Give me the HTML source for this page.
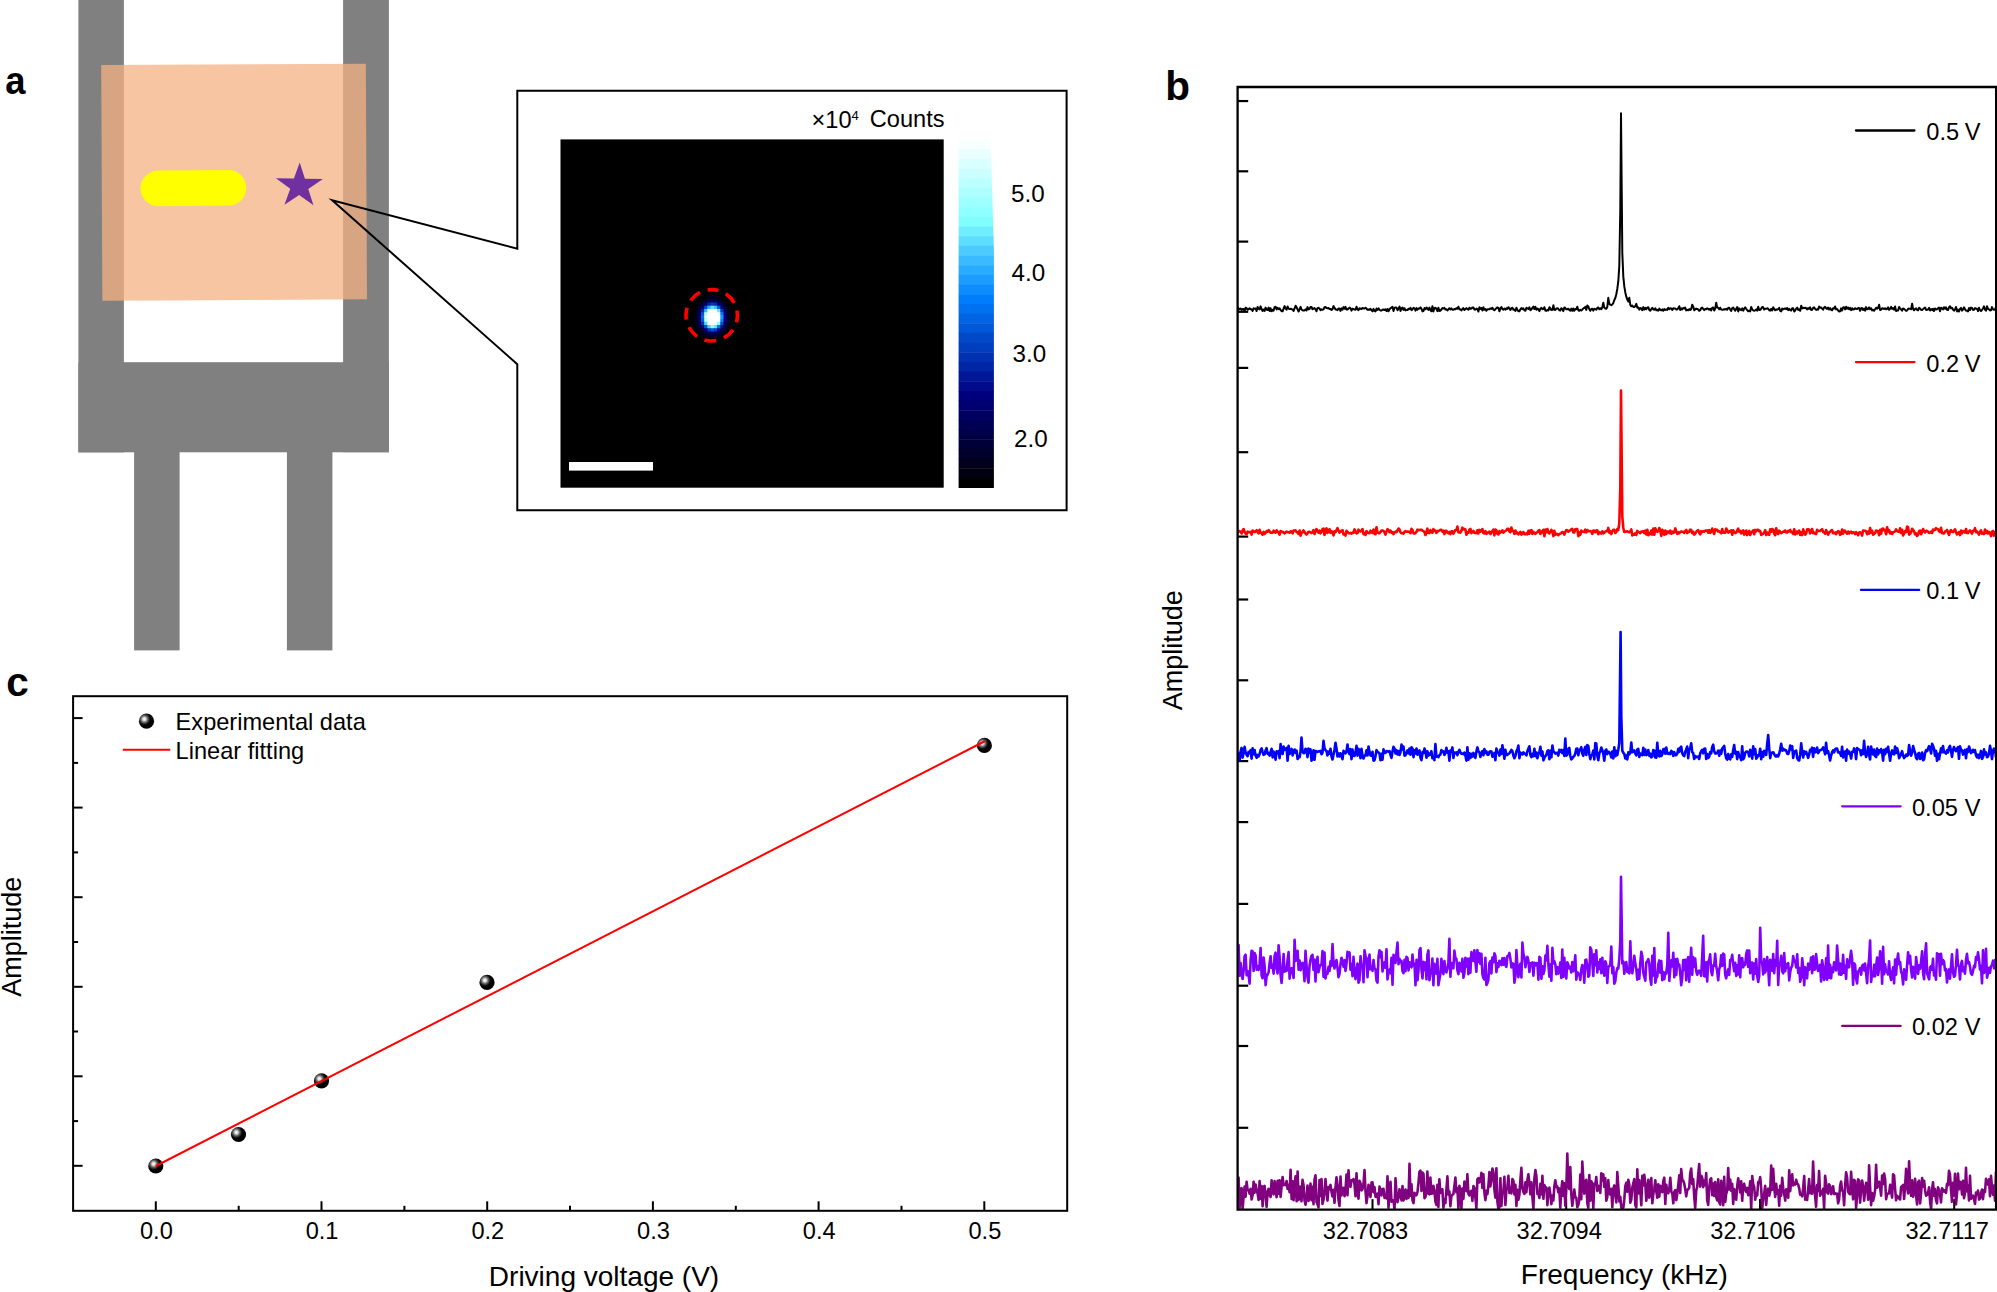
<!DOCTYPE html>
<html lang="en"><head><meta charset="utf-8"><title>Figure</title>
<style>
html,body{margin:0;padding:0;background:#fff;}
body{width:1997px;height:1292px;overflow:hidden;}
svg{display:block;}
text{font-family:"Liberation Sans", Arial, Helvetica, sans-serif;fill:#000;}
.t23{font-size:23.6px;}
.t27{font-size:28px;}
.t27a{font-size:27px;}
.t24{font-size:24.2px;}
.lab{font-size:40.5px;font-weight:bold;}
</style></head><body>
<svg width="1997" height="1292" viewBox="0 0 1997 1292">
<defs>
<radialGradient id="ball" cx="0.36" cy="0.36" r="0.42" fx="0.36" fy="0.36">
<stop offset="0" stop-color="#ffffff"/>
<stop offset="0.22" stop-color="#e0e0e0"/>
<stop offset="0.55" stop-color="#606060"/>
<stop offset="0.85" stop-color="#101010"/>
<stop offset="1" stop-color="#000000"/>
</radialGradient>
<filter id="soft" x="-20%" y="-20%" width="140%" height="140%"><feGaussianBlur stdDeviation="0.7"/></filter>
<clipPath id="clipb"><rect x="1237.4" y="87" width="759" height="1122.4"/></clipPath>
</defs>
<rect width="1997" height="1292" fill="#fff"/>

<g id="panel-a">
<rect x="78.4" y="0" width="45.5" height="452.4" fill="#808080"/>
<rect x="343.1" y="0" width="45.8" height="452.2" fill="#808080"/>
<rect x="78.4" y="362.2" width="310.5" height="90.1" fill="#808080"/>
<rect x="134.1" y="451" width="45.5" height="199.4" fill="#808080"/>
<rect x="286.9" y="451" width="45.5" height="199.4" fill="#808080"/>
<rect x="101.8" y="64.3" width="264.6" height="235.7" fill="#f4b183" fill-opacity="0.75" transform="rotate(-0.28 234 182)"/>
<rect x="140.5" y="170.3" width="105.8" height="35.6" rx="17.8" ry="17.8" fill="#ffff00" transform="rotate(-0.5 193 188)"/>
<polygon points="299.3,162.4 304.8,178.7 322.8,178.7 308.3,188.8 313.8,205.1 299.3,195.0 284.8,205.1 290.3,188.8 275.8,178.7 293.8,178.7" fill="#7030a0" transform="rotate(1 299.3 186.0)"/>
<polygon points="517.3,90.8 1066.6,90.8 1066.6,510.2 517.3,510.2 517.3,364.2 332.2,200.3 517.3,248.7" fill="none" stroke="#000" stroke-width="2" stroke-linejoin="miter" stroke-miterlimit="10"/>
<rect x="560.5" y="139.4" width="383.2" height="348.3" fill="#000"/>
<g filter="url(#soft)">
<rect x="707.37" y="292.85" width="3.92" height="3.92" fill="rgb(0,0,3)"/>
<rect x="710.59" y="292.85" width="3.92" height="3.92" fill="rgb(0,0,5)"/>
<rect x="713.81" y="292.85" width="3.92" height="3.92" fill="rgb(0,0,4)"/>
<rect x="700.93" y="296.07" width="3.92" height="3.92" fill="rgb(0,0,4)"/>
<rect x="704.15" y="296.07" width="3.92" height="3.92" fill="rgb(0,0,14)"/>
<rect x="707.37" y="296.07" width="3.92" height="3.92" fill="rgb(0,0,24)"/>
<rect x="710.59" y="296.07" width="3.92" height="3.92" fill="rgb(0,0,30)"/>
<rect x="713.81" y="296.07" width="3.92" height="3.92" fill="rgb(0,0,26)"/>
<rect x="717.03" y="296.07" width="3.92" height="3.92" fill="rgb(0,0,17)"/>
<rect x="720.25" y="296.07" width="3.92" height="3.92" fill="rgb(0,0,6)"/>
<rect x="697.71" y="299.29" width="3.92" height="3.92" fill="rgb(0,0,5)"/>
<rect x="700.93" y="299.29" width="3.92" height="3.92" fill="rgb(0,0,22)"/>
<rect x="704.15" y="299.29" width="3.92" height="3.92" fill="rgb(0,0,48)"/>
<rect x="707.37" y="299.29" width="3.92" height="3.92" fill="rgb(0,0,74)"/>
<rect x="710.59" y="299.29" width="3.92" height="3.92" fill="rgb(0,0,87)"/>
<rect x="713.81" y="299.29" width="3.92" height="3.92" fill="rgb(0,0,79)"/>
<rect x="717.03" y="299.29" width="3.92" height="3.92" fill="rgb(0,0,55)"/>
<rect x="720.25" y="299.29" width="3.92" height="3.92" fill="rgb(0,0,28)"/>
<rect x="723.47" y="299.29" width="3.92" height="3.92" fill="rgb(0,0,8)"/>
<rect x="697.71" y="302.51" width="3.92" height="3.92" fill="rgb(0,0,19)"/>
<rect x="700.93" y="302.51" width="3.92" height="3.92" fill="rgb(0,0,56)"/>
<rect x="704.15" y="302.51" width="3.92" height="3.92" fill="rgb(0,0,111)"/>
<rect x="707.37" y="302.51" width="3.92" height="3.92" fill="rgb(0,34,162)"/>
<rect x="710.59" y="302.51" width="3.92" height="3.92" fill="rgb(0,59,187)"/>
<rect x="713.81" y="302.51" width="3.92" height="3.92" fill="rgb(0,44,172)"/>
<rect x="717.03" y="302.51" width="3.92" height="3.92" fill="rgb(0,0,126)"/>
<rect x="720.25" y="302.51" width="3.92" height="3.92" fill="rgb(0,0,68)"/>
<rect x="723.47" y="302.51" width="3.92" height="3.92" fill="rgb(0,0,26)"/>
<rect x="726.69" y="302.51" width="3.92" height="3.92" fill="rgb(0,0,4)"/>
<rect x="694.49" y="305.73" width="3.92" height="3.92" fill="rgb(0,0,9)"/>
<rect x="697.71" y="305.73" width="3.92" height="3.92" fill="rgb(0,0,41)"/>
<rect x="700.93" y="305.73" width="3.92" height="3.92" fill="rgb(0,0,108)"/>
<rect x="704.15" y="305.73" width="3.92" height="3.92" fill="rgb(0,71,199)"/>
<rect x="707.37" y="305.73" width="3.92" height="3.92" fill="rgb(42,170,255)"/>
<rect x="710.59" y="305.73" width="3.92" height="3.92" fill="rgb(101,229,255)"/>
<rect x="713.81" y="305.73" width="3.92" height="3.92" fill="rgb(63,191,255)"/>
<rect x="717.03" y="305.73" width="3.92" height="3.92" fill="rgb(0,95,222)"/>
<rect x="720.25" y="305.73" width="3.92" height="3.92" fill="rgb(0,2,130)"/>
<rect x="723.47" y="305.73" width="3.92" height="3.92" fill="rgb(0,0,54)"/>
<rect x="726.69" y="305.73" width="3.92" height="3.92" fill="rgb(0,0,14)"/>
<rect x="694.49" y="308.95" width="3.92" height="3.92" fill="rgb(0,0,17)"/>
<rect x="697.71" y="308.95" width="3.92" height="3.92" fill="rgb(0,0,67)"/>
<rect x="700.93" y="308.95" width="3.92" height="3.92" fill="rgb(0,37,165)"/>
<rect x="704.15" y="308.95" width="3.92" height="3.92" fill="rgb(57,185,255)"/>
<rect x="707.37" y="308.95" width="3.92" height="3.92" fill="rgb(232,255,255)"/>
<rect x="710.59" y="308.95" width="3.92" height="3.92" fill="rgb(255,255,255)"/>
<rect x="713.81" y="308.95" width="3.92" height="3.92" fill="rgb(255,255,255)"/>
<rect x="717.03" y="308.95" width="3.92" height="3.92" fill="rgb(108,235,255)"/>
<rect x="720.25" y="308.95" width="3.92" height="3.92" fill="rgb(0,67,195)"/>
<rect x="723.47" y="308.95" width="3.92" height="3.92" fill="rgb(0,0,87)"/>
<rect x="726.69" y="308.95" width="3.92" height="3.92" fill="rgb(0,0,26)"/>
<rect x="694.49" y="312.17" width="3.92" height="3.92" fill="rgb(0,0,25)"/>
<rect x="697.71" y="312.17" width="3.92" height="3.92" fill="rgb(0,0,90)"/>
<rect x="700.93" y="312.17" width="3.92" height="3.92" fill="rgb(0,85,213)"/>
<rect x="704.15" y="312.17" width="3.92" height="3.92" fill="rgb(173,255,255)"/>
<rect x="707.37" y="312.17" width="3.92" height="3.92" fill="rgb(255,255,255)"/>
<rect x="710.59" y="312.17" width="3.92" height="3.92" fill="rgb(255,255,255)"/>
<rect x="713.81" y="312.17" width="3.92" height="3.92" fill="rgb(255,255,255)"/>
<rect x="717.03" y="312.17" width="3.92" height="3.92" fill="rgb(230,255,255)"/>
<rect x="720.25" y="312.17" width="3.92" height="3.92" fill="rgb(0,125,252)"/>
<rect x="723.47" y="312.17" width="3.92" height="3.92" fill="rgb(0,0,116)"/>
<rect x="726.69" y="312.17" width="3.92" height="3.92" fill="rgb(0,0,36)"/>
<rect x="729.91" y="312.17" width="3.92" height="3.92" fill="rgb(0,0,4)"/>
<rect x="694.49" y="315.39" width="3.92" height="3.92" fill="rgb(0,0,28)"/>
<rect x="697.71" y="315.39" width="3.92" height="3.92" fill="rgb(0,0,100)"/>
<rect x="700.93" y="315.39" width="3.92" height="3.92" fill="rgb(0,106,234)"/>
<rect x="704.15" y="315.39" width="3.92" height="3.92" fill="rgb(220,255,255)"/>
<rect x="707.37" y="315.39" width="3.92" height="3.92" fill="rgb(255,255,255)"/>
<rect x="710.59" y="315.39" width="3.92" height="3.92" fill="rgb(255,255,255)"/>
<rect x="713.81" y="315.39" width="3.92" height="3.92" fill="rgb(255,255,255)"/>
<rect x="717.03" y="315.39" width="3.92" height="3.92" fill="rgb(255,255,255)"/>
<rect x="720.25" y="315.39" width="3.92" height="3.92" fill="rgb(28,156,255)"/>
<rect x="723.47" y="315.39" width="3.92" height="3.92" fill="rgb(0,1,129)"/>
<rect x="726.69" y="315.39" width="3.92" height="3.92" fill="rgb(0,0,40)"/>
<rect x="729.91" y="315.39" width="3.92" height="3.92" fill="rgb(0,0,6)"/>
<rect x="694.49" y="318.61" width="3.92" height="3.92" fill="rgb(0,0,26)"/>
<rect x="697.71" y="318.61" width="3.92" height="3.92" fill="rgb(0,0,93)"/>
<rect x="700.93" y="318.61" width="3.92" height="3.92" fill="rgb(0,91,219)"/>
<rect x="704.15" y="318.61" width="3.92" height="3.92" fill="rgb(187,255,255)"/>
<rect x="707.37" y="318.61" width="3.92" height="3.92" fill="rgb(255,255,255)"/>
<rect x="710.59" y="318.61" width="3.92" height="3.92" fill="rgb(255,255,255)"/>
<rect x="713.81" y="318.61" width="3.92" height="3.92" fill="rgb(255,255,255)"/>
<rect x="717.03" y="318.61" width="3.92" height="3.92" fill="rgb(246,255,255)"/>
<rect x="720.25" y="318.61" width="3.92" height="3.92" fill="rgb(6,134,255)"/>
<rect x="723.47" y="318.61" width="3.92" height="3.92" fill="rgb(0,0,120)"/>
<rect x="726.69" y="318.61" width="3.92" height="3.92" fill="rgb(0,0,37)"/>
<rect x="729.91" y="318.61" width="3.92" height="3.92" fill="rgb(0,0,5)"/>
<rect x="694.49" y="321.83" width="3.92" height="3.92" fill="rgb(0,0,19)"/>
<rect x="697.71" y="321.83" width="3.92" height="3.92" fill="rgb(0,0,72)"/>
<rect x="700.93" y="321.83" width="3.92" height="3.92" fill="rgb(0,47,175)"/>
<rect x="704.15" y="321.83" width="3.92" height="3.92" fill="rgb(82,210,255)"/>
<rect x="707.37" y="321.83" width="3.92" height="3.92" fill="rgb(255,255,255)"/>
<rect x="710.59" y="321.83" width="3.92" height="3.92" fill="rgb(255,255,255)"/>
<rect x="713.81" y="321.83" width="3.92" height="3.92" fill="rgb(255,255,255)"/>
<rect x="717.03" y="321.83" width="3.92" height="3.92" fill="rgb(136,255,255)"/>
<rect x="720.25" y="321.83" width="3.92" height="3.92" fill="rgb(0,80,207)"/>
<rect x="723.47" y="321.83" width="3.92" height="3.92" fill="rgb(0,0,93)"/>
<rect x="726.69" y="321.83" width="3.92" height="3.92" fill="rgb(0,0,28)"/>
<rect x="694.49" y="325.05" width="3.92" height="3.92" fill="rgb(0,0,10)"/>
<rect x="697.71" y="325.05" width="3.92" height="3.92" fill="rgb(0,0,46)"/>
<rect x="700.93" y="325.05" width="3.92" height="3.92" fill="rgb(0,0,119)"/>
<rect x="704.15" y="325.05" width="3.92" height="3.92" fill="rgb(0,89,217)"/>
<rect x="707.37" y="325.05" width="3.92" height="3.92" fill="rgb(77,205,255)"/>
<rect x="710.59" y="325.05" width="3.92" height="3.92" fill="rgb(143,255,255)"/>
<rect x="713.81" y="325.05" width="3.92" height="3.92" fill="rgb(103,230,255)"/>
<rect x="717.03" y="325.05" width="3.92" height="3.92" fill="rgb(0,116,243)"/>
<rect x="720.25" y="325.05" width="3.92" height="3.92" fill="rgb(0,14,142)"/>
<rect x="723.47" y="325.05" width="3.92" height="3.92" fill="rgb(0,0,60)"/>
<rect x="726.69" y="325.05" width="3.92" height="3.92" fill="rgb(0,0,16)"/>
<rect x="697.71" y="328.27" width="3.92" height="3.92" fill="rgb(0,0,23)"/>
<rect x="700.93" y="328.27" width="3.92" height="3.92" fill="rgb(0,0,64)"/>
<rect x="704.15" y="328.27" width="3.92" height="3.92" fill="rgb(0,0,127)"/>
<rect x="707.37" y="328.27" width="3.92" height="3.92" fill="rgb(0,55,183)"/>
<rect x="710.59" y="328.27" width="3.92" height="3.92" fill="rgb(0,83,211)"/>
<rect x="713.81" y="328.27" width="3.92" height="3.92" fill="rgb(0,65,193)"/>
<rect x="717.03" y="328.27" width="3.92" height="3.92" fill="rgb(0,14,142)"/>
<rect x="720.25" y="328.27" width="3.92" height="3.92" fill="rgb(0,0,78)"/>
<rect x="723.47" y="328.27" width="3.92" height="3.92" fill="rgb(0,0,31)"/>
<rect x="726.69" y="328.27" width="3.92" height="3.92" fill="rgb(0,0,6)"/>
<rect x="697.71" y="331.49" width="3.92" height="3.92" fill="rgb(0,0,7)"/>
<rect x="700.93" y="331.49" width="3.92" height="3.92" fill="rgb(0,0,27)"/>
<rect x="704.15" y="331.49" width="3.92" height="3.92" fill="rgb(0,0,57)"/>
<rect x="707.37" y="331.49" width="3.92" height="3.92" fill="rgb(0,0,87)"/>
<rect x="710.59" y="331.49" width="3.92" height="3.92" fill="rgb(0,0,103)"/>
<rect x="713.81" y="331.49" width="3.92" height="3.92" fill="rgb(0,0,93)"/>
<rect x="717.03" y="331.49" width="3.92" height="3.92" fill="rgb(0,0,65)"/>
<rect x="720.25" y="331.49" width="3.92" height="3.92" fill="rgb(0,0,34)"/>
<rect x="723.47" y="331.49" width="3.92" height="3.92" fill="rgb(0,0,11)"/>
<rect x="700.93" y="334.71" width="3.92" height="3.92" fill="rgb(0,0,6)"/>
<rect x="704.15" y="334.71" width="3.92" height="3.92" fill="rgb(0,0,19)"/>
<rect x="707.37" y="334.71" width="3.92" height="3.92" fill="rgb(0,0,31)"/>
<rect x="710.59" y="334.71" width="3.92" height="3.92" fill="rgb(0,0,37)"/>
<rect x="713.81" y="334.71" width="3.92" height="3.92" fill="rgb(0,0,33)"/>
<rect x="717.03" y="334.71" width="3.92" height="3.92" fill="rgb(0,0,22)"/>
<rect x="720.25" y="334.71" width="3.92" height="3.92" fill="rgb(0,0,9)"/>
<rect x="707.37" y="337.93" width="3.92" height="3.92" fill="rgb(0,0,6)"/>
<rect x="710.59" y="337.93" width="3.92" height="3.92" fill="rgb(0,0,8)"/>
<rect x="713.81" y="337.93" width="3.92" height="3.92" fill="rgb(0,0,7)"/>
<rect x="717.03" y="337.93" width="3.92" height="3.92" fill="rgb(0,0,3)"/>
</g>
<circle cx="711.7" cy="315.3" r="25.7" fill="none" stroke="#ff0000" stroke-width="3.6" stroke-dasharray="12.2 7.98" stroke-dashoffset="6.1" transform="rotate(-88 711.7 315.3)"/>
<rect x="569" y="462" width="84" height="8.6" fill="#fff"/>
<clipPath id="cbclip"><polygon points="958.6,139 990.6,139 993.9,250 993.9,488 958.6,488"/></clipPath>
<g clip-path="url(#cbclip)">
<rect x="958" y="139.40" width="37" height="10.08" fill="rgb(248,255,255)"/>
<rect x="958" y="149.08" width="37" height="10.07" fill="rgb(233,255,255)"/>
<rect x="958" y="158.75" width="37" height="10.08" fill="rgb(218,255,255)"/>
<rect x="958" y="168.43" width="37" height="10.07" fill="rgb(203,255,255)"/>
<rect x="958" y="178.10" width="37" height="10.08" fill="rgb(188,255,255)"/>
<rect x="958" y="187.78" width="37" height="10.07" fill="rgb(173,255,255)"/>
<rect x="958" y="197.45" width="37" height="10.08" fill="rgb(158,255,255)"/>
<rect x="958" y="207.12" width="37" height="10.08" fill="rgb(143,255,255)"/>
<rect x="958" y="216.80" width="37" height="10.07" fill="rgb(128,255,255)"/>
<rect x="958" y="226.47" width="37" height="10.07" fill="rgb(111,238,255)"/>
<rect x="958" y="236.15" width="37" height="10.08" fill="rgb(93,221,255)"/>
<rect x="958" y="245.82" width="37" height="10.08" fill="rgb(76,203,255)"/>
<rect x="958" y="255.50" width="37" height="10.08" fill="rgb(59,187,255)"/>
<rect x="958" y="265.18" width="37" height="10.07" fill="rgb(43,171,255)"/>
<rect x="958" y="274.85" width="37" height="10.08" fill="rgb(28,156,255)"/>
<rect x="958" y="284.52" width="37" height="10.08" fill="rgb(12,140,255)"/>
<rect x="958" y="294.20" width="37" height="10.08" fill="rgb(0,125,252)"/>
<rect x="958" y="303.88" width="37" height="10.07" fill="rgb(0,113,240)"/>
<rect x="958" y="313.55" width="37" height="10.08" fill="rgb(0,100,227)"/>
<rect x="958" y="323.22" width="37" height="10.08" fill="rgb(0,87,215)"/>
<rect x="958" y="332.90" width="37" height="10.08" fill="rgb(0,74,202)"/>
<rect x="958" y="342.57" width="37" height="10.08" fill="rgb(0,62,190)"/>
<rect x="958" y="352.25" width="37" height="10.07" fill="rgb(0,49,177)"/>
<rect x="958" y="361.92" width="37" height="10.08" fill="rgb(0,37,165)"/>
<rect x="958" y="371.60" width="37" height="10.08" fill="rgb(0,24,152)"/>
<rect x="958" y="381.27" width="37" height="10.08" fill="rgb(0,12,140)"/>
<rect x="958" y="390.95" width="37" height="10.08" fill="rgb(0,0,127)"/>
<rect x="958" y="400.62" width="37" height="10.07" fill="rgb(0,0,113)"/>
<rect x="958" y="410.30" width="37" height="10.08" fill="rgb(0,0,99)"/>
<rect x="958" y="419.98" width="37" height="10.07" fill="rgb(0,0,84)"/>
<rect x="958" y="429.65" width="37" height="10.07" fill="rgb(0,0,70)"/>
<rect x="958" y="439.32" width="37" height="10.08" fill="rgb(0,0,56)"/>
<rect x="958" y="449.00" width="37" height="10.07" fill="rgb(0,0,42)"/>
<rect x="958" y="458.67" width="37" height="10.08" fill="rgb(0,0,28)"/>
<rect x="958" y="468.35" width="37" height="10.07" fill="rgb(0,0,14)"/>
<rect x="958" y="478.02" width="37" height="10.07" fill="rgb(0,0,0)"/>
</g>
<text class="t23" x="811.5" y="127"><tspan dy="0.8">×10</tspan><tspan font-size="13px" dy="-8.2">4</tspan><tspan dy="7.4" dx="11">Counts</tspan></text>
<text class="t24" x="1011.0" y="202.0">5.0</text>
<text class="t24" x="1011.6" y="280.9">4.0</text>
<text class="t24" x="1012.6" y="361.5">3.0</text>
<text class="t24" x="1014.0" y="446.9">2.0</text>
<text class="lab" transform="translate(5.2 93.8) scale(0.9 0.98)">a</text>
</g>
<g id="panel-b">
<line x1="1237.6" y1="101.05" x2="1248.1999999999998" y2="101.05" stroke="#000" stroke-width="2.2"/>
<line x1="1237.6" y1="171.3" x2="1248.1999999999998" y2="171.3" stroke="#000" stroke-width="2.2"/>
<line x1="1237.6" y1="241.6" x2="1248.1999999999998" y2="241.6" stroke="#000" stroke-width="2.2"/>
<line x1="1237.6" y1="311.8" x2="1248.1999999999998" y2="311.8" stroke="#000" stroke-width="2.2"/>
<line x1="1237.6" y1="367.9" x2="1248.1999999999998" y2="367.9" stroke="#000" stroke-width="2.2"/>
<line x1="1237.6" y1="452.2" x2="1248.1999999999998" y2="452.2" stroke="#000" stroke-width="2.2"/>
<line x1="1237.6" y1="536.6" x2="1248.1999999999998" y2="536.6" stroke="#000" stroke-width="2.2"/>
<line x1="1237.6" y1="599.5" x2="1248.1999999999998" y2="599.5" stroke="#000" stroke-width="2.2"/>
<line x1="1237.6" y1="680.3" x2="1248.1999999999998" y2="680.3" stroke="#000" stroke-width="2.2"/>
<line x1="1237.6" y1="761.1" x2="1248.1999999999998" y2="761.1" stroke="#000" stroke-width="2.2"/>
<line x1="1237.6" y1="822.1" x2="1248.1999999999998" y2="822.1" stroke="#000" stroke-width="2.2"/>
<line x1="1237.6" y1="903.9" x2="1248.1999999999998" y2="903.9" stroke="#000" stroke-width="2.2"/>
<line x1="1237.6" y1="985.7" x2="1248.1999999999998" y2="985.7" stroke="#000" stroke-width="2.2"/>
<line x1="1237.6" y1="1046" x2="1248.1999999999998" y2="1046" stroke="#000" stroke-width="2.2"/>
<line x1="1237.6" y1="1127.8" x2="1248.1999999999998" y2="1127.8" stroke="#000" stroke-width="2.2"/>
<line x1="1372.5" y1="1209.6" x2="1372.5" y2="1199.1" stroke="#000" stroke-width="2"/>
<text class="t23" x="1365.5" y="1238.8" text-anchor="middle">32.7083</text>
<line x1="1566.2" y1="1209.6" x2="1566.2" y2="1199.1" stroke="#000" stroke-width="2"/>
<text class="t23" x="1559.2" y="1238.8" text-anchor="middle">32.7094</text>
<line x1="1760.0" y1="1209.6" x2="1760.0" y2="1199.1" stroke="#000" stroke-width="2"/>
<text class="t23" x="1753.0" y="1238.8" text-anchor="middle">32.7106</text>
<line x1="1954.2" y1="1209.6" x2="1954.2" y2="1199.1" stroke="#000" stroke-width="2"/>
<text class="t23" x="1947.2" y="1238.8" text-anchor="middle">32.7117</text>
<polyline points="1237.6,306.8 1238.6,309.6 1239.6,309.0 1240.6,308.5 1241.6,310.0 1242.6,309.0 1243.6,309.0 1244.6,311.3 1245.6,307.7 1246.6,308.2 1247.6,309.8 1248.6,309.2 1249.6,308.3 1250.6,309.3 1251.6,309.3 1252.6,310.9 1253.6,308.3 1254.6,308.8 1255.6,308.6 1256.6,311.0 1257.6,306.9 1258.6,308.8 1259.6,309.5 1260.6,306.4 1261.6,309.1 1262.6,310.9 1263.6,309.5 1264.6,311.0 1265.6,307.6 1266.6,309.5 1267.6,310.0 1268.6,307.6 1269.6,311.1 1270.6,308.3 1271.6,311.3 1272.6,309.9 1273.6,310.6 1274.6,307.1 1275.6,306.7 1276.6,309.4 1277.6,307.9 1278.6,309.2 1279.6,308.3 1280.6,310.0 1281.6,311.2 1282.6,311.3 1283.6,308.5 1284.6,306.1 1285.6,308.6 1286.6,309.7 1287.6,306.5 1288.6,308.7 1289.6,308.9 1290.6,308.7 1291.6,309.2 1292.6,309.4 1293.6,310.9 1294.6,308.3 1295.6,305.8 1296.6,307.4 1297.6,309.5 1298.6,311.5 1299.6,309.1 1300.6,306.8 1301.5,309.5 1302.5,310.2 1303.5,310.6 1304.5,310.4 1305.5,309.4 1306.5,310.5 1307.5,307.1 1308.5,309.4 1309.5,308.9 1310.5,307.1 1311.5,307.0 1312.5,309.3 1313.5,308.6 1314.5,308.0 1315.5,309.3 1316.5,311.3 1317.5,308.1 1318.5,307.8 1319.5,308.5 1320.5,310.2 1321.5,309.3 1322.5,309.8 1323.5,309.4 1324.5,307.3 1325.5,307.0 1326.5,308.1 1327.5,308.3 1328.5,308.1 1329.5,309.0 1330.5,309.1 1331.5,309.9 1332.5,309.1 1333.5,306.1 1334.5,307.9 1335.5,309.4 1336.5,309.6 1337.5,310.1 1338.5,308.5 1339.5,308.5 1340.5,310.9 1341.5,308.4 1342.5,309.7 1343.5,307.1 1344.5,308.8 1345.5,306.8 1346.5,309.6 1347.5,309.4 1348.5,308.6 1349.5,307.6 1350.5,308.3 1351.5,310.6 1352.5,308.8 1353.5,309.0 1354.5,309.6 1355.5,309.8 1356.5,306.7 1357.5,309.5 1358.5,310.1 1359.5,308.2 1360.5,308.8 1361.5,309.1 1362.5,308.0 1363.5,308.4 1364.5,308.5 1365.5,307.7 1366.5,308.6 1367.5,309.8 1368.5,309.5 1369.5,309.7 1370.5,308.7 1371.5,310.4 1372.5,311.4 1373.5,308.9 1374.5,310.7 1375.5,311.5 1376.5,308.5 1377.5,309.9 1378.5,308.4 1379.5,309.7 1380.5,310.5 1381.5,310.6 1382.5,309.7 1383.5,309.4 1384.5,310.1 1385.5,309.4 1386.5,311.0 1387.5,309.0 1388.5,311.3 1389.5,309.3 1390.5,308.1 1391.5,307.6 1392.5,306.8 1393.5,311.0 1394.5,308.0 1395.5,307.4 1396.5,307.7 1397.5,310.2 1398.5,308.5 1399.5,306.6 1400.5,310.9 1401.5,308.4 1402.5,307.6 1403.5,309.9 1404.5,308.2 1405.5,310.4 1406.5,310.1 1407.5,310.1 1408.5,308.7 1409.5,309.1 1410.5,307.8 1411.5,310.2 1412.5,309.2 1413.5,307.8 1414.5,308.3 1415.5,310.7 1416.5,308.1 1417.5,309.6 1418.5,308.5 1419.5,308.6 1420.5,307.4 1421.5,308.8 1422.5,311.4 1423.5,310.8 1424.5,308.0 1425.5,309.3 1426.5,307.5 1427.4,308.6 1428.4,310.0 1429.4,307.6 1430.4,310.0 1431.4,311.3 1432.4,306.3 1433.4,311.5 1434.4,308.2 1435.4,307.8 1436.4,308.8 1437.4,311.2 1438.4,307.7 1439.4,310.9 1440.4,310.7 1441.4,309.5 1442.4,308.0 1443.4,308.6 1444.4,307.9 1445.4,309.6 1446.4,309.2 1447.4,310.5 1448.4,309.4 1449.4,308.2 1450.4,309.4 1451.4,308.4 1452.4,309.7 1453.4,309.8 1454.4,308.9 1455.4,309.3 1456.4,308.2 1457.4,308.8 1458.4,306.7 1459.4,309.3 1460.4,309.3 1461.4,310.4 1462.4,309.0 1463.4,308.1 1464.4,310.0 1465.4,309.1 1466.4,308.1 1467.4,309.2 1468.4,309.7 1469.4,307.7 1470.4,308.9 1471.4,308.5 1472.4,307.5 1473.4,307.5 1474.4,309.5 1475.4,309.7 1476.4,308.6 1477.4,309.2 1478.4,311.5 1479.4,307.3 1480.4,309.0 1481.4,308.0 1482.4,310.5 1483.4,307.3 1484.4,309.8 1485.4,309.1 1486.4,310.8 1487.4,309.2 1488.4,309.3 1489.4,309.2 1490.4,308.4 1491.4,308.9 1492.4,307.7 1493.4,309.6 1494.4,310.3 1495.4,309.0 1496.4,308.2 1497.4,307.4 1498.4,307.9 1499.4,311.3 1500.4,308.5 1501.4,307.1 1502.4,308.9 1503.4,309.7 1504.4,308.6 1505.4,309.7 1506.4,308.2 1507.4,309.0 1508.4,307.2 1509.4,308.4 1510.4,309.9 1511.4,308.2 1512.4,307.8 1513.4,309.7 1514.4,309.6 1515.4,311.0 1516.4,307.8 1517.4,309.8 1518.4,311.2 1519.4,311.3 1520.4,309.3 1521.4,308.0 1522.4,309.1 1523.4,308.4 1524.4,310.4 1525.4,310.7 1526.4,307.8 1527.4,308.4 1528.4,309.0 1529.4,307.3 1530.4,310.2 1531.4,309.5 1532.4,307.7 1533.4,306.6 1534.4,309.0 1535.4,306.8 1536.4,309.8 1537.4,308.6 1538.4,309.2 1539.4,311.1 1540.4,308.7 1541.4,307.8 1542.4,309.2 1543.4,309.1 1544.4,307.2 1545.4,310.6 1546.4,310.9 1547.4,309.8 1548.4,310.5 1549.4,307.2 1550.4,308.6 1551.4,310.1 1552.4,309.8 1553.4,305.3 1554.3,309.8 1555.3,310.0 1556.3,308.6 1557.3,308.2 1558.3,308.7 1559.3,310.2 1560.3,310.5 1561.3,308.2 1562.3,309.1 1563.3,311.1 1564.3,307.5 1565.3,308.0 1566.3,309.3 1567.3,309.3 1568.3,308.7 1569.3,309.9 1570.3,310.7 1571.3,308.6 1572.3,310.8 1573.3,308.5 1574.3,310.8 1575.3,309.1 1576.3,309.2 1577.3,306.7 1578.3,310.3 1579.3,310.8 1580.3,309.8 1581.3,310.4 1582.3,309.7 1583.3,308.4 1584.3,308.0 1585.3,306.8 1586.3,309.9 1587.3,305.5 1588.3,306.4 1589.3,309.2 1590.3,310.8 1591.3,309.0 1592.3,308.8 1593.3,310.6 1594.3,308.8 1595.3,309.1 1596.3,309.7 1597.3,308.0 1598.3,307.5 1599.3,309.2 1600.3,308.4 1601.3,309.2 1602.3,307.2 1603.3,302.8 1604.3,307.6 1605.3,308.5 1606.3,308.8 1607.3,307.0 1608.3,297.8 1609.3,303.9 1610.3,304.6 1611.3,305.2 1612.3,304.5 1613.3,303.0 1614.3,300.2 1615.3,298.0 1616.3,294.2 1617.3,288.9 1618.3,281.2 1619.3,265.8 1620.3,208.8 1621.0,113.3 1622.3,252.7 1623.3,276.4 1624.3,286.4 1625.3,292.4 1626.3,296.7 1627.3,299.6 1628.3,301.6 1629.3,297.8 1630.3,304.9 1631.3,306.3 1632.3,305.6 1633.3,306.9 1634.3,306.9 1635.3,306.1 1636.3,303.8 1637.3,307.7 1638.3,307.4 1639.3,309.7 1640.3,308.0 1641.3,308.4 1642.3,310.2 1643.3,307.1 1644.3,309.6 1645.3,307.9 1646.3,309.3 1647.3,307.6 1648.3,307.2 1649.3,309.9 1650.3,310.7 1651.3,309.1 1652.3,307.8 1653.3,309.4 1654.3,309.7 1655.3,308.3 1656.3,310.3 1657.3,309.8 1658.3,310.7 1659.3,308.6 1660.3,309.9 1661.3,310.4 1662.3,309.4 1663.3,310.8 1664.3,309.0 1665.3,309.9 1666.3,309.5 1667.3,309.9 1668.3,307.8 1669.3,309.1 1670.3,308.3 1671.3,308.4 1672.3,310.0 1673.3,308.3 1674.3,308.5 1675.3,308.6 1676.3,309.5 1677.3,309.5 1678.3,308.0 1679.3,306.2 1680.2,310.1 1681.2,308.3 1682.2,309.5 1683.2,308.0 1684.2,308.4 1685.2,307.6 1686.2,310.4 1687.2,309.8 1688.2,310.3 1689.2,309.1 1690.2,309.9 1691.2,309.1 1692.2,304.8 1693.2,306.5 1694.2,310.3 1695.2,309.4 1696.2,308.6 1697.2,309.0 1698.2,309.4 1699.2,310.8 1700.2,310.2 1701.2,308.1 1702.2,307.6 1703.2,308.9 1704.2,310.1 1705.2,308.9 1706.2,309.3 1707.2,308.3 1708.2,308.8 1709.2,309.8 1710.2,308.8 1711.2,310.5 1712.2,307.9 1713.2,307.5 1714.2,310.5 1715.2,308.5 1716.2,302.8 1717.2,307.6 1718.2,307.8 1719.2,309.3 1720.2,307.7 1721.2,309.6 1722.2,309.8 1723.2,309.7 1724.2,309.2 1725.2,309.4 1726.2,308.8 1727.2,309.8 1728.2,308.0 1729.2,307.7 1730.2,309.6 1731.2,310.9 1732.2,308.1 1733.2,307.5 1734.2,309.2 1735.2,310.7 1736.2,308.7 1737.2,307.0 1738.2,311.4 1739.2,308.4 1740.2,309.4 1741.2,310.1 1742.2,308.4 1743.2,310.7 1744.2,308.6 1745.2,307.3 1746.2,308.8 1747.2,310.1 1748.2,311.3 1749.2,310.7 1750.2,311.4 1751.2,306.9 1752.2,309.3 1753.2,310.4 1754.2,310.7 1755.2,310.4 1756.2,309.4 1757.2,310.7 1758.2,306.8 1759.2,310.0 1760.2,310.0 1761.2,308.6 1762.2,307.1 1763.2,307.3 1764.2,309.6 1765.2,308.7 1766.2,308.8 1767.2,308.3 1768.2,308.7 1769.2,310.2 1770.2,310.6 1771.2,308.8 1772.2,310.5 1773.2,307.2 1774.2,308.9 1775.2,310.3 1776.2,309.4 1777.2,309.7 1778.2,309.2 1779.2,307.8 1780.2,310.9 1781.2,311.4 1782.2,308.6 1783.2,309.2 1784.2,308.8 1785.2,308.4 1786.2,309.2 1787.2,308.0 1788.2,310.2 1789.2,308.9 1790.2,310.1 1791.2,310.5 1792.2,308.2 1793.2,308.3 1794.2,311.5 1795.2,310.5 1796.2,308.6 1797.2,307.6 1798.2,309.9 1799.2,309.2 1800.2,310.8 1801.2,305.7 1802.2,308.4 1803.2,307.8 1804.2,308.1 1805.2,307.8 1806.2,308.2 1807.1,309.4 1808.1,308.0 1809.1,308.9 1810.1,307.3 1811.1,310.0 1812.1,309.7 1813.1,308.1 1814.1,307.3 1815.1,308.8 1816.1,309.9 1817.1,309.2 1818.1,309.6 1819.1,306.5 1820.1,307.8 1821.1,307.4 1822.1,308.6 1823.1,309.7 1824.1,307.5 1825.1,306.8 1826.1,308.2 1827.1,309.0 1828.1,307.6 1829.1,309.5 1830.1,308.0 1831.1,309.9 1832.1,310.3 1833.1,308.3 1834.1,308.6 1835.1,306.5 1836.1,309.4 1837.1,309.0 1838.1,310.5 1839.1,311.4 1840.1,311.3 1841.1,308.4 1842.1,310.5 1843.1,307.5 1844.1,307.2 1845.1,309.4 1846.1,306.8 1847.1,308.7 1848.1,307.5 1849.1,309.3 1850.1,307.8 1851.1,310.2 1852.1,308.2 1853.1,309.6 1854.1,309.2 1855.1,308.2 1856.1,308.8 1857.1,309.1 1858.1,308.1 1859.1,308.0 1860.1,310.8 1861.1,308.3 1862.1,308.1 1863.1,310.0 1864.1,308.5 1865.1,310.7 1866.1,307.1 1867.1,309.3 1868.1,309.1 1869.1,307.4 1870.1,309.2 1871.1,308.2 1872.1,310.4 1873.1,309.7 1874.1,310.8 1875.1,309.3 1876.1,307.7 1877.1,308.7 1878.1,307.9 1879.1,304.8 1880.1,310.1 1881.1,309.6 1882.1,308.3 1883.1,308.5 1884.1,309.0 1885.1,308.2 1886.1,309.2 1887.1,309.0 1888.1,307.3 1889.1,309.8 1890.1,308.8 1891.1,306.9 1892.1,308.9 1893.1,308.1 1894.1,309.8 1895.1,306.5 1896.1,311.1 1897.1,310.5 1898.1,310.4 1899.1,306.9 1900.1,308.5 1901.1,309.3 1902.1,310.7 1903.1,308.5 1904.1,308.9 1905.1,309.9 1906.1,310.9 1907.1,310.4 1908.1,308.7 1909.1,308.6 1910.1,308.9 1911.1,309.2 1912.1,303.8 1913.1,308.9 1914.1,310.3 1915.1,308.9 1916.1,308.4 1917.1,309.9 1918.1,310.3 1919.1,307.7 1920.1,308.5 1921.1,309.8 1922.1,310.1 1923.1,309.1 1924.1,308.2 1925.1,307.5 1926.1,309.9 1927.1,309.8 1928.1,309.6 1929.1,307.9 1930.1,310.5 1931.1,309.1 1932.1,310.2 1933.0,308.7 1934.0,311.0 1935.0,308.5 1936.0,309.6 1937.0,309.3 1938.0,308.3 1939.0,307.5 1940.0,311.2 1941.0,307.7 1942.0,308.3 1943.0,309.4 1944.0,307.2 1945.0,308.8 1946.0,307.3 1947.0,309.8 1948.0,310.1 1949.0,307.4 1950.0,306.2 1951.0,308.2 1952.0,307.8 1953.0,309.6 1954.0,310.7 1955.0,309.3 1956.0,307.0 1957.0,311.4 1958.0,309.6 1959.0,311.5 1960.0,308.9 1961.0,307.9 1962.0,310.6 1963.0,309.5 1964.0,307.3 1965.0,309.1 1966.0,310.6 1967.0,310.7 1968.0,311.4 1969.0,308.0 1970.0,310.0 1971.0,307.6 1972.0,307.9 1973.0,309.9 1974.0,309.7 1975.0,308.0 1976.0,308.8 1977.0,308.7 1978.0,311.1 1979.0,307.8 1980.0,310.1 1981.0,311.0 1982.0,309.8 1983.0,308.5 1984.0,306.3 1985.0,309.5 1986.0,310.7 1987.0,306.2 1988.0,308.8 1989.0,309.3 1990.0,310.4 1991.0,310.3 1992.0,307.1 1993.0,309.4 1994.0,309.7 1995.0,309.7 1996.0,307.0" fill="none" stroke="#000000" stroke-width="2.0" stroke-linejoin="round" clip-path="url(#clipb)"/>
<polyline points="1237.6,533.0 1238.6,530.8 1239.6,531.4 1240.6,531.5 1241.6,533.5 1242.6,530.7 1243.6,529.0 1244.6,532.0 1245.6,533.6 1246.6,534.2 1247.6,531.6 1248.6,532.4 1249.6,532.1 1250.6,531.9 1251.6,534.6 1252.6,530.5 1253.6,531.5 1254.6,532.0 1255.6,531.5 1256.6,530.2 1257.6,531.8 1258.6,533.4 1259.6,529.8 1260.6,532.7 1261.6,533.2 1262.6,534.7 1263.6,531.9 1264.6,533.8 1265.6,532.8 1266.6,531.1 1267.6,531.8 1268.6,530.1 1269.6,531.4 1270.6,532.6 1271.6,532.5 1272.6,532.8 1273.6,530.7 1274.6,531.9 1275.6,532.6 1276.6,530.4 1277.6,531.7 1278.6,532.7 1279.6,534.6 1280.6,531.1 1281.6,531.5 1282.6,531.8 1283.6,532.7 1284.6,533.4 1285.6,532.3 1286.6,531.5 1287.6,532.1 1288.6,532.2 1289.6,532.7 1290.6,531.3 1291.6,531.5 1292.6,533.3 1293.6,530.5 1294.6,530.5 1295.6,530.4 1296.6,532.1 1297.6,532.2 1298.6,534.0 1299.6,530.5 1300.6,535.7 1301.5,532.6 1302.5,532.5 1303.5,530.4 1304.5,531.9 1305.5,533.6 1306.5,534.5 1307.5,533.2 1308.5,531.7 1309.5,531.8 1310.5,532.3 1311.5,533.1 1312.5,532.3 1313.5,530.1 1314.5,533.9 1315.5,531.8 1316.5,529.0 1317.5,530.9 1318.5,532.7 1319.5,530.7 1320.5,533.3 1321.5,531.9 1322.5,529.1 1323.5,528.5 1324.5,535.0 1325.5,530.6 1326.5,528.4 1327.5,532.9 1328.5,531.4 1329.5,529.2 1330.5,532.8 1331.5,531.1 1332.5,532.0 1333.5,535.4 1334.5,531.3 1335.5,532.2 1336.5,530.2 1337.5,528.1 1338.5,530.7 1339.5,532.6 1340.5,531.1 1341.5,531.5 1342.5,530.1 1343.5,534.5 1344.5,534.0 1345.5,535.6 1346.5,530.8 1347.5,531.9 1348.5,533.1 1349.5,533.2 1350.5,532.9 1351.5,533.6 1352.5,532.5 1353.5,532.8 1354.5,529.4 1355.5,531.3 1356.5,533.4 1357.5,533.0 1358.5,529.7 1359.5,531.1 1360.5,531.4 1361.5,530.6 1362.5,529.0 1363.5,534.1 1364.5,533.2 1365.5,535.0 1366.5,531.0 1367.5,532.6 1368.5,533.1 1369.5,533.3 1370.5,530.7 1371.5,532.2 1372.5,532.9 1373.5,529.6 1374.5,533.8 1375.5,534.2 1376.5,527.2 1377.5,532.6 1378.5,532.9 1379.5,533.2 1380.5,532.1 1381.5,530.5 1382.5,530.5 1383.5,530.9 1384.5,532.4 1385.5,534.6 1386.5,531.4 1387.5,529.2 1388.5,530.0 1389.5,532.2 1390.5,530.5 1391.5,532.6 1392.5,532.0 1393.5,534.1 1394.5,532.5 1395.5,531.6 1396.5,532.2 1397.5,530.5 1398.5,528.5 1399.5,529.5 1400.5,532.4 1401.5,533.2 1402.5,533.1 1403.5,533.7 1404.5,531.8 1405.5,531.1 1406.5,531.6 1407.5,531.6 1408.5,531.6 1409.5,532.1 1410.5,533.2 1411.5,528.8 1412.5,530.0 1413.5,533.5 1414.5,533.5 1415.5,533.0 1416.5,531.8 1417.5,529.6 1418.5,530.1 1419.5,530.0 1420.5,529.9 1421.5,529.9 1422.5,530.6 1423.5,531.1 1424.5,532.1 1425.5,535.0 1426.5,532.1 1427.4,528.7 1428.4,532.9 1429.4,533.0 1430.4,530.1 1431.4,531.8 1432.4,532.8 1433.4,529.1 1434.4,530.8 1435.4,530.5 1436.4,532.9 1437.4,531.0 1438.4,531.2 1439.4,530.5 1440.4,529.8 1441.4,529.9 1442.4,531.6 1443.4,530.7 1444.4,534.0 1445.4,530.7 1446.4,530.7 1447.4,532.6 1448.4,533.3 1449.4,532.0 1450.4,534.1 1451.4,531.3 1452.4,531.4 1453.4,533.6 1454.4,531.8 1455.4,530.0 1456.4,530.0 1457.4,526.6 1458.4,532.2 1459.4,532.5 1460.4,532.6 1461.4,530.8 1462.4,527.7 1463.4,529.4 1464.4,529.0 1465.4,529.5 1466.4,534.8 1467.4,532.3 1468.4,532.7 1469.4,529.7 1470.4,528.9 1471.4,533.1 1472.4,531.8 1473.4,530.9 1474.4,532.8 1475.4,533.0 1476.4,533.1 1477.4,530.3 1478.4,533.5 1479.4,529.9 1480.4,531.7 1481.4,530.5 1482.4,529.1 1483.4,533.1 1484.4,533.4 1485.4,531.1 1486.4,533.8 1487.4,533.2 1488.4,532.1 1489.4,531.6 1490.4,534.1 1491.4,532.6 1492.4,530.9 1493.4,529.5 1494.4,535.4 1495.4,529.6 1496.4,530.3 1497.4,533.8 1498.4,534.5 1499.4,531.2 1500.4,532.7 1501.4,531.7 1502.4,530.4 1503.4,532.6 1504.4,531.6 1505.4,531.0 1506.4,530.3 1507.4,528.7 1508.4,528.8 1509.4,531.5 1510.4,532.3 1511.4,527.6 1512.4,530.8 1513.4,531.1 1514.4,533.9 1515.4,530.5 1516.4,533.3 1517.4,532.7 1518.4,534.3 1519.4,532.8 1520.4,531.8 1521.4,534.6 1522.4,533.5 1523.4,532.0 1524.4,534.2 1525.4,534.1 1526.4,533.4 1527.4,534.4 1528.4,530.8 1529.4,533.7 1530.4,530.5 1531.4,530.2 1532.4,534.0 1533.4,531.8 1534.4,532.8 1535.4,533.9 1536.4,532.5 1537.4,532.3 1538.4,530.6 1539.4,530.1 1540.4,533.9 1541.4,532.6 1542.4,530.9 1543.4,529.8 1544.4,536.3 1545.4,529.6 1546.4,532.2 1547.4,529.1 1548.4,532.7 1549.4,533.4 1550.4,531.8 1551.4,529.8 1552.4,531.8 1553.4,536.1 1554.3,530.7 1555.3,534.8 1556.3,533.7 1557.3,534.0 1558.3,535.2 1559.3,534.2 1560.3,533.7 1561.3,533.0 1562.3,532.0 1563.3,532.5 1564.3,534.6 1565.3,532.2 1566.3,530.1 1567.3,530.2 1568.3,531.7 1569.3,530.8 1570.3,530.3 1571.3,529.4 1572.3,528.8 1573.3,532.5 1574.3,532.4 1575.3,529.2 1576.3,529.1 1577.3,529.1 1578.3,536.1 1579.3,532.3 1580.3,534.8 1581.3,530.6 1582.3,531.8 1583.3,531.8 1584.3,532.1 1585.3,529.6 1586.3,532.4 1587.3,530.0 1588.3,530.9 1589.3,531.3 1590.3,531.1 1591.3,531.7 1592.3,533.9 1593.3,530.6 1594.3,530.6 1595.3,532.2 1596.3,530.6 1597.3,530.3 1598.3,534.2 1599.3,532.2 1600.3,532.7 1601.3,533.5 1602.3,531.3 1603.3,533.4 1604.3,532.7 1605.3,531.5 1606.3,531.3 1607.3,531.3 1608.3,527.9 1609.3,532.8 1610.3,531.4 1611.3,534.0 1612.3,531.0 1613.3,529.8 1614.3,529.7 1615.3,532.9 1616.3,532.1 1617.3,529.2 1618.3,530.0 1619.3,523.3 1620.3,487.4 1621.0,390.6 1622.3,516.6 1623.3,528.0 1624.3,532.0 1625.3,531.8 1626.3,531.5 1627.3,531.3 1628.3,532.0 1629.3,532.3 1630.3,531.5 1631.3,529.4 1632.3,535.5 1633.3,534.4 1634.3,534.7 1635.3,533.1 1636.3,535.0 1637.3,530.9 1638.3,531.7 1639.3,532.4 1640.3,533.1 1641.3,531.6 1642.3,531.6 1643.3,531.3 1644.3,533.2 1645.3,530.7 1646.3,534.5 1647.3,529.7 1648.3,535.2 1649.3,533.0 1650.3,534.1 1651.3,530.5 1652.3,534.6 1653.3,528.6 1654.3,534.7 1655.3,528.2 1656.3,531.1 1657.3,531.8 1658.3,531.1 1659.3,528.0 1660.3,530.3 1661.3,535.9 1662.3,529.8 1663.3,531.5 1664.3,534.8 1665.3,530.5 1666.3,534.1 1667.3,531.6 1668.3,531.5 1669.3,533.1 1670.3,530.7 1671.3,533.7 1672.3,531.6 1673.3,532.9 1674.3,532.2 1675.3,528.4 1676.3,531.7 1677.3,533.9 1678.3,532.1 1679.3,533.3 1680.2,531.9 1681.2,531.6 1682.2,531.7 1683.2,531.7 1684.2,532.9 1685.2,531.1 1686.2,530.0 1687.2,533.0 1688.2,532.0 1689.2,531.8 1690.2,529.6 1691.2,530.0 1692.2,533.2 1693.2,531.8 1694.2,534.6 1695.2,533.6 1696.2,531.9 1697.2,530.8 1698.2,530.2 1699.2,532.5 1700.2,534.3 1701.2,531.2 1702.2,532.2 1703.2,531.1 1704.2,531.6 1705.2,530.6 1706.2,530.7 1707.2,530.4 1708.2,532.7 1709.2,530.1 1710.2,532.8 1711.2,531.7 1712.2,528.6 1713.2,531.3 1714.2,534.0 1715.2,529.2 1716.2,530.1 1717.2,529.8 1718.2,531.5 1719.2,531.3 1720.2,532.3 1721.2,533.2 1722.2,529.1 1723.2,532.6 1724.2,532.8 1725.2,532.7 1726.2,528.5 1727.2,530.3 1728.2,532.6 1729.2,532.0 1730.2,531.0 1731.2,530.3 1732.2,534.8 1733.2,530.3 1734.2,532.3 1735.2,533.1 1736.2,532.6 1737.2,530.5 1738.2,528.7 1739.2,531.6 1740.2,530.9 1741.2,533.4 1742.2,531.0 1743.2,530.4 1744.2,534.6 1745.2,532.8 1746.2,530.5 1747.2,535.1 1748.2,532.6 1749.2,530.8 1750.2,534.9 1751.2,532.6 1752.2,531.8 1753.2,530.3 1754.2,534.2 1755.2,529.9 1756.2,531.3 1757.2,529.7 1758.2,529.8 1759.2,531.3 1760.2,531.0 1761.2,535.0 1762.2,534.3 1763.2,533.7 1764.2,532.5 1765.2,530.2 1766.2,535.1 1767.2,532.5 1768.2,534.3 1769.2,534.7 1770.2,529.2 1771.2,531.7 1772.2,529.0 1773.2,529.8 1774.2,533.6 1775.2,535.2 1776.2,528.2 1777.2,532.6 1778.2,534.0 1779.2,530.7 1780.2,531.7 1781.2,533.1 1782.2,532.5 1783.2,531.6 1784.2,531.8 1785.2,530.5 1786.2,532.5 1787.2,532.5 1788.2,530.8 1789.2,531.3 1790.2,529.9 1791.2,532.3 1792.2,532.1 1793.2,534.0 1794.2,529.2 1795.2,534.4 1796.2,531.5 1797.2,533.5 1798.2,531.3 1799.2,530.6 1800.2,534.9 1801.2,532.3 1802.2,535.1 1803.2,529.4 1804.2,532.7 1805.2,534.7 1806.2,533.2 1807.1,529.5 1808.1,529.2 1809.1,529.6 1810.1,533.3 1811.1,532.2 1812.1,529.0 1813.1,533.2 1814.1,532.5 1815.1,533.6 1816.1,534.0 1817.1,529.7 1818.1,530.8 1819.1,531.1 1820.1,530.9 1821.1,530.1 1822.1,529.2 1823.1,531.9 1824.1,532.5 1825.1,533.7 1826.1,530.0 1827.1,532.8 1828.1,534.6 1829.1,532.4 1830.1,531.9 1831.1,530.4 1832.1,530.1 1833.1,533.2 1834.1,533.3 1835.1,532.5 1836.1,534.1 1837.1,532.1 1838.1,531.1 1839.1,531.8 1840.1,534.8 1841.1,534.0 1842.1,529.6 1843.1,533.7 1844.1,530.6 1845.1,530.8 1846.1,532.5 1847.1,533.7 1848.1,531.5 1849.1,533.5 1850.1,532.2 1851.1,531.7 1852.1,533.2 1853.1,532.3 1854.1,532.5 1855.1,534.1 1856.1,532.2 1857.1,533.0 1858.1,535.2 1859.1,532.5 1860.1,532.4 1861.1,533.0 1862.1,535.6 1863.1,530.5 1864.1,530.7 1865.1,530.7 1866.1,531.3 1867.1,534.2 1868.1,531.7 1869.1,533.6 1870.1,528.0 1871.1,532.8 1872.1,530.7 1873.1,534.7 1874.1,534.0 1875.1,532.9 1876.1,530.6 1877.1,530.9 1878.1,531.4 1879.1,535.2 1880.1,529.9 1881.1,533.6 1882.1,529.0 1883.1,528.5 1884.1,530.4 1885.1,530.1 1886.1,534.2 1887.1,527.3 1888.1,531.5 1889.1,530.1 1890.1,533.4 1891.1,532.0 1892.1,534.0 1893.1,532.3 1894.1,531.9 1895.1,531.4 1896.1,529.4 1897.1,531.0 1898.1,531.5 1899.1,531.8 1900.1,528.3 1901.1,532.9 1902.1,529.8 1903.1,535.4 1904.1,533.5 1905.1,531.2 1906.1,532.2 1907.1,526.5 1908.1,527.3 1909.1,534.6 1910.1,533.8 1911.1,532.2 1912.1,528.8 1913.1,529.9 1914.1,531.3 1915.1,534.4 1916.1,533.4 1917.1,535.9 1918.1,534.7 1919.1,531.1 1920.1,530.5 1921.1,534.2 1922.1,531.7 1923.1,529.0 1924.1,531.6 1925.1,532.4 1926.1,530.8 1927.1,530.9 1928.1,531.7 1929.1,532.9 1930.1,532.7 1931.1,531.7 1932.1,532.9 1933.0,529.5 1934.0,530.3 1935.0,529.9 1936.0,528.2 1937.0,529.0 1938.0,529.3 1939.0,531.2 1940.0,532.2 1941.0,527.7 1942.0,533.1 1943.0,533.0 1944.0,533.5 1945.0,531.5 1946.0,531.1 1947.0,530.0 1948.0,532.3 1949.0,535.0 1950.0,531.3 1951.0,530.1 1952.0,531.8 1953.0,532.1 1954.0,530.9 1955.0,529.3 1956.0,532.0 1957.0,534.4 1958.0,532.9 1959.0,532.2 1960.0,535.1 1961.0,530.5 1962.0,533.3 1963.0,531.0 1964.0,531.5 1965.0,532.5 1966.0,529.0 1967.0,532.9 1968.0,533.1 1969.0,531.4 1970.0,530.4 1971.0,531.9 1972.0,533.7 1973.0,530.7 1974.0,530.8 1975.0,528.2 1976.0,532.3 1977.0,531.5 1978.0,532.9 1979.0,534.6 1980.0,531.8 1981.0,530.4 1982.0,533.7 1983.0,533.1 1984.0,534.0 1985.0,529.5 1986.0,533.0 1987.0,530.9 1988.0,533.5 1989.0,531.8 1990.0,533.0 1991.0,536.1 1992.0,531.8 1993.0,530.9 1994.0,535.7 1995.0,532.2 1996.0,532.7" fill="none" stroke="#ff0000" stroke-width="2.6" stroke-linejoin="round" clip-path="url(#clipb)"/>
<polyline points="1237.6,756.9 1238.6,753.6 1239.6,760.4 1240.6,751.6 1241.6,747.9 1242.6,757.6 1243.6,752.9 1244.6,746.9 1245.6,752.1 1246.6,754.7 1247.6,756.2 1248.6,751.9 1249.6,753.1 1250.6,750.1 1251.6,758.7 1252.6,748.3 1253.6,754.2 1254.6,750.0 1255.6,755.5 1256.6,757.8 1257.6,754.9 1258.6,756.4 1259.6,754.1 1260.6,750.0 1261.6,748.3 1262.6,751.8 1263.6,754.8 1264.6,754.4 1265.6,750.2 1266.6,748.1 1267.6,753.9 1268.6,753.1 1269.6,755.6 1270.6,751.8 1271.6,748.8 1272.6,757.4 1273.6,751.6 1274.6,754.8 1275.6,759.7 1276.6,751.3 1277.6,753.0 1278.6,751.1 1279.6,758.1 1280.6,744.1 1281.6,752.2 1282.6,754.0 1283.6,746.5 1284.6,750.0 1285.6,749.3 1286.6,747.9 1287.6,760.7 1288.6,745.9 1289.6,754.0 1290.6,751.5 1291.6,748.9 1292.6,755.4 1293.6,751.3 1294.6,749.5 1295.6,752.8 1296.6,750.6 1297.6,759.0 1298.6,757.4 1299.6,757.2 1300.6,751.1 1301.5,737.6 1302.5,751.5 1303.5,753.2 1304.5,752.9 1305.5,748.7 1306.5,749.7 1307.5,757.2 1308.5,748.5 1309.5,752.7 1310.5,749.3 1311.5,760.6 1312.5,758.8 1313.5,750.2 1314.5,759.8 1315.5,751.0 1316.5,751.2 1317.5,752.0 1318.5,751.2 1319.5,751.5 1320.5,750.8 1321.5,754.2 1322.5,752.7 1323.5,740.9 1324.5,748.1 1325.5,750.2 1326.5,751.0 1327.5,755.5 1328.5,751.7 1329.5,753.6 1330.5,748.8 1331.5,756.3 1332.5,759.5 1333.5,754.8 1334.5,749.8 1335.5,742.8 1336.5,748.5 1337.5,756.5 1338.5,753.5 1339.5,756.4 1340.5,753.3 1341.5,756.2 1342.5,759.2 1343.5,750.8 1344.5,751.8 1345.5,753.3 1346.5,751.2 1347.5,744.5 1348.5,752.1 1349.5,754.1 1350.5,749.1 1351.5,759.2 1352.5,749.6 1353.5,755.7 1354.5,755.9 1355.5,752.2 1356.5,745.9 1357.5,755.6 1358.5,748.8 1359.5,751.1 1360.5,758.2 1361.5,748.9 1362.5,755.9 1363.5,758.5 1364.5,755.8 1365.5,755.5 1366.5,750.2 1367.5,755.5 1368.5,746.6 1369.5,751.7 1370.5,755.5 1371.5,755.9 1372.5,751.7 1373.5,760.7 1374.5,760.3 1375.5,756.1 1376.5,750.1 1377.5,751.9 1378.5,752.5 1379.5,753.5 1380.5,760.3 1381.5,753.9 1382.5,759.7 1383.5,749.3 1384.5,752.6 1385.5,753.0 1386.5,751.0 1387.5,751.3 1388.5,751.7 1389.5,751.2 1390.5,755.0 1391.5,757.9 1392.5,751.2 1393.5,746.8 1394.5,748.6 1395.5,753.5 1396.5,750.2 1397.5,754.4 1398.5,751.1 1399.5,755.0 1400.5,752.0 1401.5,744.6 1402.5,749.5 1403.5,746.6 1404.5,755.7 1405.5,755.3 1406.5,752.8 1407.5,750.4 1408.5,753.4 1409.5,748.5 1410.5,754.8 1411.5,747.2 1412.5,748.7 1413.5,757.1 1414.5,750.3 1415.5,753.5 1416.5,748.5 1417.5,754.8 1418.5,751.4 1419.5,750.4 1420.5,758.0 1421.5,760.1 1422.5,752.1 1423.5,753.1 1424.5,748.5 1425.5,751.7 1426.5,757.7 1427.4,751.3 1428.4,755.6 1429.4,753.5 1430.4,754.6 1431.4,751.2 1432.4,758.3 1433.4,757.1 1434.4,760.1 1435.4,744.0 1436.4,756.6 1437.4,756.1 1438.4,757.2 1439.4,755.2 1440.4,754.4 1441.4,750.1 1442.4,751.9 1443.4,751.3 1444.4,755.0 1445.4,752.9 1446.4,747.7 1447.4,752.7 1448.4,751.4 1449.4,760.7 1450.4,750.5 1451.4,751.6 1452.4,747.4 1453.4,758.0 1454.4,752.5 1455.4,753.1 1456.4,752.3 1457.4,755.2 1458.4,751.8 1459.4,749.8 1460.4,752.5 1461.4,753.8 1462.4,753.5 1463.4,754.2 1464.4,752.5 1465.4,755.5 1466.4,760.6 1467.4,747.3 1468.4,759.7 1469.4,753.2 1470.4,757.9 1471.4,753.8 1472.4,756.6 1473.4,752.9 1474.4,756.1 1475.4,757.9 1476.4,751.5 1477.4,747.4 1478.4,751.3 1479.4,752.3 1480.4,756.9 1481.4,753.1 1482.4,751.0 1483.4,755.3 1484.4,749.1 1485.4,752.9 1486.4,751.3 1487.4,754.7 1488.4,754.7 1489.4,751.9 1490.4,751.2 1491.4,751.4 1492.4,756.8 1493.4,755.7 1494.4,752.9 1495.4,760.2 1496.4,748.6 1497.4,751.5 1498.4,752.6 1499.4,755.6 1500.4,749.5 1501.4,753.9 1502.4,745.2 1503.4,751.2 1504.4,758.8 1505.4,749.9 1506.4,754.9 1507.4,754.9 1508.4,753.8 1509.4,753.3 1510.4,751.8 1511.4,749.8 1512.4,751.0 1513.4,755.7 1514.4,758.2 1515.4,756.0 1516.4,751.4 1517.4,749.4 1518.4,745.6 1519.4,758.2 1520.4,752.5 1521.4,753.7 1522.4,754.4 1523.4,752.3 1524.4,753.8 1525.4,753.9 1526.4,755.4 1527.4,751.3 1528.4,748.6 1529.4,746.3 1530.4,754.9 1531.4,757.1 1532.4,753.9 1533.4,756.2 1534.4,748.7 1535.4,756.1 1536.4,752.5 1537.4,758.2 1538.4,754.2 1539.4,752.1 1540.4,746.7 1541.4,755.6 1542.4,751.4 1543.4,760.4 1544.4,757.7 1545.4,756.1 1546.4,754.8 1547.4,751.1 1548.4,750.3 1549.4,759.3 1550.4,750.7 1551.4,757.3 1552.4,745.5 1553.4,751.6 1554.3,752.2 1555.3,753.6 1556.3,753.0 1557.3,752.8 1558.3,755.6 1559.3,749.9 1560.3,751.8 1561.3,749.9 1562.3,753.1 1563.3,750.1 1564.3,755.9 1565.3,738.6 1566.3,755.7 1567.3,754.6 1568.3,749.0 1569.3,747.9 1570.3,756.0 1571.3,759.5 1572.3,758.4 1573.3,756.8 1574.3,756.0 1575.3,753.5 1576.3,748.7 1577.3,748.5 1578.3,755.3 1579.3,750.7 1580.3,749.3 1581.3,747.2 1582.3,753.5 1583.3,755.8 1584.3,749.9 1585.3,746.8 1586.3,755.0 1587.3,745.1 1588.3,746.0 1589.3,753.9 1590.3,759.1 1591.3,755.3 1592.3,754.3 1593.3,750.7 1594.3,759.5 1595.3,743.1 1596.3,743.5 1597.3,755.8 1598.3,760.3 1599.3,753.5 1600.3,751.2 1601.3,747.5 1602.3,750.0 1603.3,753.7 1604.3,760.7 1605.3,750.8 1606.3,749.5 1607.3,754.1 1608.3,751.8 1609.3,752.1 1610.3,753.8 1611.3,757.5 1612.3,751.5 1613.3,758.5 1614.3,747.3 1615.3,756.3 1616.3,750.8 1617.3,755.1 1618.3,749.8 1619.3,743.0 1620.6,632.1 1621.3,716.9 1622.3,750.6 1623.3,752.8 1624.3,753.9 1625.3,758.5 1626.3,755.6 1627.3,759.4 1628.3,752.4 1629.3,754.4 1630.3,752.8 1631.3,742.5 1632.3,752.3 1633.3,751.4 1634.3,750.4 1635.3,753.5 1636.3,755.3 1637.3,749.4 1638.3,748.8 1639.3,757.0 1640.3,753.5 1641.3,754.3 1642.3,755.2 1643.3,747.9 1644.3,755.0 1645.3,749.5 1646.3,755.1 1647.3,754.5 1648.3,750.0 1649.3,755.9 1650.3,753.6 1651.3,757.3 1652.3,756.5 1653.3,750.0 1654.3,750.6 1655.3,757.5 1656.3,757.6 1657.3,742.7 1658.3,755.5 1659.3,756.4 1660.3,750.9 1661.3,756.0 1662.3,754.4 1663.3,749.3 1664.3,748.9 1665.3,753.7 1666.3,747.6 1667.3,753.5 1668.3,753.9 1669.3,752.9 1670.3,754.1 1671.3,750.8 1672.3,751.8 1673.3,756.0 1674.3,752.2 1675.3,755.1 1676.3,755.2 1677.3,753.5 1678.3,748.8 1679.3,751.8 1680.2,747.8 1681.2,746.7 1682.2,753.1 1683.2,755.3 1684.2,756.1 1685.2,751.8 1686.2,749.5 1687.2,746.6 1688.2,758.1 1689.2,749.2 1690.2,748.6 1691.2,743.2 1692.2,752.2 1693.2,753.0 1694.2,759.0 1695.2,756.0 1696.2,757.3 1697.2,756.9 1698.2,756.5 1699.2,759.0 1700.2,753.3 1701.2,751.3 1702.2,749.8 1703.2,753.3 1704.2,748.7 1705.2,748.6 1706.2,758.9 1707.2,754.0 1708.2,757.9 1709.2,756.8 1710.2,752.1 1711.2,753.4 1712.2,747.0 1713.2,744.7 1714.2,751.2 1715.2,753.6 1716.2,753.4 1717.2,752.9 1718.2,750.6 1719.2,755.8 1720.2,750.5 1721.2,753.8 1722.2,748.6 1723.2,747.4 1724.2,745.9 1725.2,753.5 1726.2,758.2 1727.2,759.6 1728.2,754.0 1729.2,758.5 1730.2,759.4 1731.2,754.2 1732.2,756.8 1733.2,750.1 1734.2,745.1 1735.2,753.7 1736.2,751.6 1737.2,759.1 1738.2,752.1 1739.2,755.6 1740.2,757.2 1741.2,760.2 1742.2,746.4 1743.2,759.2 1744.2,757.6 1745.2,752.8 1746.2,751.6 1747.2,751.6 1748.2,752.4 1749.2,756.4 1750.2,749.7 1751.2,752.0 1752.2,758.6 1753.2,746.4 1754.2,754.1 1755.2,749.0 1756.2,758.6 1757.2,757.5 1758.2,755.1 1759.2,755.5 1760.2,748.7 1761.2,759.2 1762.2,752.1 1763.2,756.8 1764.2,750.7 1765.2,751.9 1766.2,755.0 1767.2,743.9 1768.2,735.1 1769.2,748.4 1770.2,758.1 1771.2,753.2 1772.2,752.4 1773.2,752.2 1774.2,754.1 1775.2,756.0 1776.2,756.5 1777.2,755.0 1778.2,756.4 1779.2,753.7 1780.2,749.3 1781.2,743.8 1782.2,750.6 1783.2,748.6 1784.2,750.2 1785.2,749.8 1786.2,750.3 1787.2,753.7 1788.2,754.0 1789.2,751.4 1790.2,745.5 1791.2,749.5 1792.2,746.2 1793.2,757.9 1794.2,751.6 1795.2,751.1 1796.2,750.6 1797.2,758.1 1798.2,760.0 1799.2,760.5 1800.2,754.2 1801.2,743.3 1802.2,751.8 1803.2,757.5 1804.2,751.3 1805.2,753.8 1806.2,751.9 1807.1,754.4 1808.1,757.8 1809.1,754.8 1810.1,749.8 1811.1,751.4 1812.1,747.7 1813.1,756.9 1814.1,748.4 1815.1,752.3 1816.1,751.8 1817.1,747.6 1818.1,753.1 1819.1,751.5 1820.1,750.0 1821.1,750.0 1822.1,749.3 1823.1,747.4 1824.1,750.4 1825.1,754.3 1826.1,742.7 1827.1,752.6 1828.1,751.0 1829.1,755.5 1830.1,760.4 1831.1,755.6 1832.1,752.2 1833.1,750.3 1834.1,752.4 1835.1,749.3 1836.1,748.5 1837.1,748.5 1838.1,752.4 1839.1,752.1 1840.1,753.3 1841.1,755.9 1842.1,746.7 1843.1,757.4 1844.1,752.7 1845.1,751.5 1846.1,760.6 1847.1,749.5 1848.1,753.8 1849.1,751.5 1850.1,753.8 1851.1,758.6 1852.1,751.7 1853.1,752.0 1854.1,748.4 1855.1,750.5 1856.1,759.2 1857.1,748.0 1858.1,749.2 1859.1,749.4 1860.1,750.5 1861.1,755.2 1862.1,750.3 1863.1,753.9 1864.1,740.9 1865.1,753.4 1866.1,756.9 1867.1,753.8 1868.1,746.7 1869.1,754.7 1870.1,759.4 1871.1,746.6 1872.1,751.1 1873.1,754.4 1874.1,749.6 1875.1,756.1 1876.1,757.1 1877.1,748.6 1878.1,754.5 1879.1,750.3 1880.1,752.4 1881.1,749.1 1882.1,752.0 1883.1,760.6 1884.1,749.7 1885.1,754.3 1886.1,748.9 1887.1,752.0 1888.1,746.7 1889.1,753.7 1890.1,760.7 1891.1,753.7 1892.1,750.4 1893.1,753.8 1894.1,754.3 1895.1,746.5 1896.1,753.0 1897.1,748.2 1898.1,751.8 1899.1,758.2 1900.1,756.2 1901.1,753.7 1902.1,751.2 1903.1,755.7 1904.1,758.1 1905.1,756.5 1906.1,754.5 1907.1,756.0 1908.1,754.8 1909.1,745.0 1910.1,751.3 1911.1,755.7 1912.1,752.5 1913.1,746.1 1914.1,749.9 1915.1,752.9 1916.1,757.9 1917.1,759.2 1918.1,753.8 1919.1,752.9 1920.1,759.0 1921.1,757.8 1922.1,752.6 1923.1,760.3 1924.1,759.4 1925.1,752.7 1926.1,750.2 1927.1,751.2 1928.1,748.5 1929.1,746.1 1930.1,748.9 1931.1,753.5 1932.1,743.9 1933.0,745.7 1934.0,748.7 1935.0,755.7 1936.0,750.8 1937.0,760.8 1938.0,753.8 1939.0,759.2 1940.0,754.1 1941.0,748.3 1942.0,752.3 1943.0,746.0 1944.0,752.4 1945.0,752.0 1946.0,753.6 1947.0,750.3 1948.0,752.5 1949.0,747.6 1950.0,745.9 1951.0,750.9 1952.0,756.9 1953.0,750.1 1954.0,747.0 1955.0,749.8 1956.0,751.2 1957.0,748.6 1958.0,747.1 1959.0,758.8 1960.0,746.3 1961.0,749.3 1962.0,750.4 1963.0,754.6 1964.0,751.5 1965.0,749.9 1966.0,758.3 1967.0,749.4 1968.0,752.1 1969.0,746.5 1970.0,749.7 1971.0,753.1 1972.0,752.1 1973.0,749.8 1974.0,751.8 1975.0,750.2 1976.0,755.2 1977.0,757.4 1978.0,754.6 1979.0,758.1 1980.0,755.5 1981.0,750.9 1982.0,758.9 1983.0,757.3 1984.0,749.4 1985.0,754.5 1986.0,752.4 1987.0,757.3 1988.0,756.5 1989.0,753.6 1990.0,745.8 1991.0,750.6 1992.0,759.1 1993.0,750.6 1994.0,748.7 1995.0,749.6 1996.0,757.3" fill="none" stroke="#0000ff" stroke-width="2.6" stroke-linejoin="round" clip-path="url(#clipb)"/>
<polyline points="1237.6,967.0 1238.6,945.1 1239.6,975.6 1240.6,963.0 1241.6,973.8 1242.6,979.0 1243.6,970.6 1244.6,956.0 1245.6,954.7 1246.6,975.1 1247.6,971.0 1248.6,975.2 1249.6,983.7 1250.6,960.2 1251.6,950.7 1252.6,951.3 1253.6,970.9 1254.6,953.0 1255.6,955.4 1256.6,969.6 1257.6,966.3 1258.6,969.9 1259.6,963.9 1260.6,948.1 1261.6,975.5 1262.6,978.2 1263.6,957.5 1264.6,965.6 1265.6,985.1 1266.6,976.3 1267.6,974.5 1268.6,972.3 1269.6,963.0 1270.6,956.2 1271.6,967.8 1272.6,964.7 1273.6,973.6 1274.6,955.9 1275.6,952.7 1276.6,968.8 1277.6,973.5 1278.6,945.4 1279.6,956.9 1280.6,975.1 1281.6,983.0 1282.6,969.1 1283.6,954.1 1284.6,971.6 1285.6,968.6 1286.6,971.0 1287.6,959.6 1288.6,952.1 1289.6,978.7 1290.6,969.0 1291.6,968.1 1292.6,972.3 1293.6,978.0 1294.6,939.7 1295.6,960.9 1296.6,958.9 1297.6,950.9 1298.6,969.7 1299.6,960.6 1300.6,970.1 1301.5,966.9 1302.5,962.7 1303.5,967.7 1304.5,981.1 1305.5,950.9 1306.5,964.5 1307.5,977.5 1308.5,982.7 1309.5,966.3 1310.5,959.5 1311.5,955.9 1312.5,954.8 1313.5,969.8 1314.5,959.6 1315.5,981.5 1316.5,964.5 1317.5,956.8 1318.5,972.1 1319.5,967.6 1320.5,964.9 1321.5,964.6 1322.5,951.1 1323.5,976.8 1324.5,952.6 1325.5,978.5 1326.5,972.7 1327.5,973.8 1328.5,966.9 1329.5,971.0 1330.5,961.2 1331.5,965.9 1332.5,944.0 1333.5,962.1 1334.5,968.5 1335.5,962.3 1336.5,960.0 1337.5,967.9 1338.5,977.2 1339.5,974.1 1340.5,964.2 1341.5,957.7 1342.5,961.2 1343.5,966.9 1344.5,960.4 1345.5,970.9 1346.5,963.4 1347.5,951.8 1348.5,954.8 1349.5,952.4 1350.5,969.7 1351.5,964.0 1352.5,976.1 1353.5,956.8 1354.5,970.3 1355.5,979.2 1356.5,971.0 1357.5,963.5 1358.5,982.7 1359.5,980.2 1360.5,956.2 1361.5,965.1 1362.5,966.5 1363.5,982.1 1364.5,950.2 1365.5,955.8 1366.5,959.0 1367.5,977.2 1368.5,960.3 1369.5,954.6 1370.5,969.3 1371.5,968.5 1372.5,970.8 1373.5,960.1 1374.5,968.4 1375.5,969.2 1376.5,980.6 1377.5,982.7 1378.5,956.7 1379.5,950.3 1380.5,957.4 1381.5,951.9 1382.5,971.5 1383.5,966.6 1384.5,962.4 1385.5,967.7 1386.5,949.4 1387.5,979.4 1388.5,971.8 1389.5,969.6 1390.5,973.2 1391.5,957.7 1392.5,984.7 1393.5,954.7 1394.5,957.1 1395.5,962.9 1396.5,952.1 1397.5,942.6 1398.5,964.3 1399.5,958.8 1400.5,962.1 1401.5,960.8 1402.5,971.1 1403.5,973.2 1404.5,959.9 1405.5,971.2 1406.5,956.7 1407.5,958.0 1408.5,970.4 1409.5,962.3 1410.5,965.2 1411.5,967.3 1412.5,954.6 1413.5,965.5 1414.5,963.6 1415.5,985.3 1416.5,959.9 1417.5,980.3 1418.5,969.8 1419.5,949.8 1420.5,948.1 1421.5,969.8 1422.5,978.4 1423.5,961.9 1424.5,969.9 1425.5,962.5 1426.5,979.3 1427.4,954.7 1428.4,950.4 1429.4,980.3 1430.4,973.6 1431.4,972.8 1432.4,958.5 1433.4,985.3 1434.4,963.8 1435.4,968.1 1436.4,973.8 1437.4,958.8 1438.4,985.3 1439.4,979.5 1440.4,973.7 1441.4,958.7 1442.4,969.3 1443.4,974.1 1444.4,961.0 1445.4,970.6 1446.4,972.3 1447.4,968.8 1448.4,962.4 1449.4,938.9 1450.4,976.7 1451.4,963.0 1452.4,967.3 1453.4,968.3 1454.4,950.6 1455.4,958.0 1456.4,959.0 1457.4,970.2 1458.4,974.1 1459.4,962.7 1460.4,968.5 1461.4,971.4 1462.4,958.9 1463.4,977.7 1464.4,972.9 1465.4,957.8 1466.4,966.4 1467.4,958.9 1468.4,974.1 1469.4,958.6 1470.4,972.7 1471.4,952.0 1472.4,957.7 1473.4,960.9 1474.4,950.2 1475.4,962.0 1476.4,971.8 1477.4,950.0 1478.4,962.0 1479.4,953.3 1480.4,964.0 1481.4,953.9 1482.4,974.1 1483.4,978.1 1484.4,979.5 1485.4,957.8 1486.4,985.0 1487.4,983.2 1488.4,979.6 1489.4,963.1 1490.4,961.0 1491.4,973.5 1492.4,957.5 1493.4,962.2 1494.4,953.3 1495.4,955.9 1496.4,972.2 1497.4,963.3 1498.4,967.0 1499.4,960.7 1500.4,963.3 1501.4,965.1 1502.4,958.2 1503.4,964.7 1504.4,958.0 1505.4,964.9 1506.4,966.9 1507.4,956.1 1508.4,955.8 1509.4,952.9 1510.4,959.0 1511.4,967.4 1512.4,963.4 1513.4,963.7 1514.4,982.8 1515.4,976.5 1516.4,950.0 1517.4,965.9 1518.4,977.1 1519.4,966.4 1520.4,963.7 1521.4,977.5 1522.4,942.6 1523.4,954.0 1524.4,957.2 1525.4,967.2 1526.4,960.5 1527.4,956.9 1528.4,960.5 1529.4,972.0 1530.4,963.4 1531.4,964.0 1532.4,962.4 1533.4,975.7 1534.4,962.7 1535.4,965.3 1536.4,963.0 1537.4,963.4 1538.4,979.7 1539.4,956.9 1540.4,957.9 1541.4,978.8 1542.4,966.4 1543.4,973.9 1544.4,970.0 1545.4,955.5 1546.4,960.2 1547.4,945.8 1548.4,964.6 1549.4,976.7 1550.4,964.4 1551.4,980.8 1552.4,947.9 1553.4,963.1 1554.3,961.2 1555.3,964.2 1556.3,974.2 1557.3,967.0 1558.3,973.6 1559.3,970.9 1560.3,962.6 1561.3,977.9 1562.3,949.6 1563.3,976.6 1564.3,957.7 1565.3,972.4 1566.3,978.5 1567.3,962.3 1568.3,964.5 1569.3,968.5 1570.3,966.9 1571.3,972.5 1572.3,962.1 1573.3,971.2 1574.3,966.2 1575.3,955.4 1576.3,979.6 1577.3,972.2 1578.3,973.3 1579.3,974.5 1580.3,980.0 1581.3,969.3 1582.3,965.1 1583.3,967.8 1584.3,982.6 1585.3,960.0 1586.3,959.7 1587.3,966.0 1588.3,976.7 1589.3,975.3 1590.3,947.4 1591.3,949.7 1592.3,962.1 1593.3,975.9 1594.3,954.3 1595.3,965.1 1596.3,950.2 1597.3,972.5 1598.3,962.2 1599.3,968.9 1600.3,959.4 1601.3,973.2 1602.3,957.7 1603.3,970.7 1604.3,975.7 1605.3,961.2 1606.3,964.5 1607.3,982.9 1608.3,967.3 1609.3,965.9 1610.3,965.0 1611.3,946.5 1612.3,973.3 1613.3,967.0 1614.3,983.7 1615.3,981.3 1616.3,972.5 1617.3,968.1 1618.3,968.5 1619.3,959.1 1620.3,940.7 1621.0,876.7 1622.3,963.5 1623.3,961.5 1624.3,973.8 1625.3,963.3 1626.3,962.1 1627.3,971.9 1628.3,971.8 1629.3,973.4 1630.3,941.3 1631.3,967.9 1632.3,973.3 1633.3,965.9 1634.3,955.8 1635.3,963.6 1636.3,969.0 1637.3,979.7 1638.3,969.9 1639.3,978.8 1640.3,963.4 1641.3,951.9 1642.3,956.4 1643.3,972.8 1644.3,976.8 1645.3,980.8 1646.3,962.5 1647.3,961.3 1648.3,959.1 1649.3,963.6 1650.3,979.0 1651.3,984.7 1652.3,955.8 1653.3,975.4 1654.3,948.1 1655.3,982.7 1656.3,978.0 1657.3,976.4 1658.3,964.4 1659.3,960.4 1660.3,972.6 1661.3,961.1 1662.3,980.1 1663.3,972.1 1664.3,979.2 1665.3,972.6 1666.3,973.5 1667.3,964.1 1668.3,932.7 1669.3,980.8 1670.3,969.1 1671.3,960.3 1672.3,966.4 1673.3,952.9 1674.3,977.3 1675.3,959.4 1676.3,974.9 1677.3,958.9 1678.3,965.4 1679.3,964.6 1680.2,973.0 1681.2,985.2 1682.2,978.1 1683.2,960.0 1684.2,969.7 1685.2,959.8 1686.2,980.3 1687.2,960.7 1688.2,957.0 1689.2,981.6 1690.2,963.9 1691.2,947.7 1692.2,974.6 1693.2,957.1 1694.2,966.7 1695.2,958.5 1696.2,970.9 1697.2,974.8 1698.2,971.3 1699.2,970.7 1700.2,972.9 1701.2,975.8 1702.2,956.0 1703.2,935.7 1704.2,976.1 1705.2,976.4 1706.2,962.2 1707.2,981.5 1708.2,962.1 1709.2,959.9 1710.2,954.3 1711.2,971.4 1712.2,975.2 1713.2,965.3 1714.2,965.6 1715.2,953.9 1716.2,966.5 1717.2,971.3 1718.2,980.3 1719.2,969.1 1720.2,966.2 1721.2,955.2 1722.2,965.9 1723.2,953.5 1724.2,954.6 1725.2,974.6 1726.2,978.3 1727.2,973.3 1728.2,969.3 1729.2,975.0 1730.2,960.0 1731.2,960.2 1732.2,954.9 1733.2,964.1 1734.2,971.3 1735.2,962.8 1736.2,976.0 1737.2,965.4 1738.2,974.5 1739.2,955.4 1740.2,977.3 1741.2,958.4 1742.2,958.1 1743.2,967.3 1744.2,963.5 1745.2,964.9 1746.2,954.0 1747.2,950.4 1748.2,966.8 1749.2,950.6 1750.2,973.3 1751.2,962.7 1752.2,962.5 1753.2,979.5 1754.2,963.6 1755.2,973.6 1756.2,959.0 1757.2,975.8 1758.2,982.0 1759.2,975.7 1760.2,927.7 1761.2,960.6 1762.2,963.5 1763.2,974.5 1764.2,959.0 1765.2,972.4 1766.2,969.1 1767.2,957.1 1768.2,968.5 1769.2,985.1 1770.2,959.8 1771.2,966.9 1772.2,970.8 1773.2,954.0 1774.2,973.2 1775.2,960.4 1776.2,965.6 1777.2,940.9 1778.2,984.9 1779.2,965.0 1780.2,963.5 1781.2,955.9 1782.2,971.1 1783.2,973.3 1784.2,953.0 1785.2,971.2 1786.2,964.1 1787.2,967.4 1788.2,963.1 1789.2,980.4 1790.2,972.3 1791.2,967.5 1792.2,965.8 1793.2,956.0 1794.2,961.8 1795.2,961.2 1796.2,967.5 1797.2,954.4 1798.2,973.0 1799.2,967.9 1800.2,981.8 1801.2,977.4 1802.2,958.4 1803.2,967.4 1804.2,985.3 1805.2,967.4 1806.2,969.3 1807.1,978.3 1808.1,963.6 1809.1,969.7 1810.1,966.9 1811.1,957.5 1812.1,973.1 1813.1,956.2 1814.1,969.7 1815.1,969.5 1816.1,954.1 1817.1,963.2 1818.1,971.0 1819.1,968.2 1820.1,964.8 1821.1,981.5 1822.1,960.3 1823.1,967.0 1824.1,979.9 1825.1,976.4 1826.1,958.3 1827.1,979.6 1828.1,945.5 1829.1,977.7 1830.1,964.9 1831.1,978.3 1832.1,967.7 1833.1,972.2 1834.1,962.2 1835.1,965.1 1836.1,970.4 1837.1,945.6 1838.1,959.4 1839.1,974.4 1840.1,963.6 1841.1,974.8 1842.1,973.0 1843.1,954.8 1844.1,972.8 1845.1,965.8 1846.1,978.8 1847.1,959.4 1848.1,966.1 1849.1,967.3 1850.1,957.9 1851.1,950.9 1852.1,959.3 1853.1,984.6 1854.1,963.4 1855.1,964.7 1856.1,978.8 1857.1,983.5 1858.1,971.5 1859.1,970.4 1860.1,968.1 1861.1,974.8 1862.1,965.9 1863.1,964.5 1864.1,970.4 1865.1,963.6 1866.1,973.3 1867.1,983.2 1868.1,967.6 1869.1,958.7 1870.1,940.5 1871.1,982.0 1872.1,972.6 1873.1,976.3 1874.1,964.8 1875.1,976.3 1876.1,966.2 1877.1,957.6 1878.1,975.0 1879.1,968.2 1880.1,951.3 1881.1,958.6 1882.1,983.7 1883.1,946.7 1884.1,974.3 1885.1,964.4 1886.1,971.6 1887.1,972.0 1888.1,974.4 1889.1,961.2 1890.1,975.2 1891.1,980.0 1892.1,973.1 1893.1,967.4 1894.1,983.3 1895.1,959.5 1896.1,974.6 1897.1,960.2 1898.1,953.6 1899.1,964.2 1900.1,962.0 1901.1,971.9 1902.1,974.1 1903.1,984.5 1904.1,969.3 1905.1,972.8 1906.1,979.8 1907.1,964.6 1908.1,952.2 1909.1,963.3 1910.1,955.7 1911.1,970.0 1912.1,977.5 1913.1,966.7 1914.1,970.8 1915.1,978.7 1916.1,957.0 1917.1,965.6 1918.1,973.9 1919.1,965.4 1920.1,968.8 1921.1,961.1 1922.1,951.4 1923.1,973.5 1924.1,979.2 1925.1,953.5 1926.1,943.4 1927.1,973.4 1928.1,976.4 1929.1,979.3 1930.1,967.4 1931.1,966.2 1932.1,969.9 1933.0,958.9 1934.0,975.4 1935.0,973.2 1936.0,979.8 1937.0,953.4 1938.0,956.5 1939.0,954.2 1940.0,975.6 1941.0,953.9 1942.0,964.3 1943.0,960.0 1944.0,961.4 1945.0,970.4 1946.0,968.9 1947.0,982.5 1948.0,972.6 1949.0,969.4 1950.0,978.7 1951.0,966.2 1952.0,954.4 1953.0,972.1 1954.0,976.8 1955.0,975.6 1956.0,965.2 1957.0,949.7 1958.0,965.5 1959.0,966.6 1960.0,979.5 1961.0,963.8 1962.0,960.9 1963.0,971.2 1964.0,967.4 1965.0,973.7 1966.0,959.8 1967.0,953.8 1968.0,963.3 1969.0,962.0 1970.0,966.6 1971.0,973.5 1972.0,974.8 1973.0,971.1 1974.0,965.9 1975.0,967.2 1976.0,957.0 1977.0,959.7 1978.0,952.3 1979.0,959.3 1980.0,969.5 1981.0,966.1 1982.0,983.3 1983.0,950.4 1984.0,972.9 1985.0,971.1 1986.0,948.9 1987.0,977.8 1988.0,973.2 1989.0,967.7 1990.0,972.8 1991.0,966.1 1992.0,964.6 1993.0,960.7 1994.0,968.1 1995.0,960.1 1996.0,970.3" fill="none" stroke="#8000ff" stroke-width="2.6" stroke-linejoin="round" clip-path="url(#clipb)"/>
<polyline points="1237.6,1183.6 1238.6,1177.6 1239.6,1208.0 1240.6,1192.3 1241.6,1188.0 1242.6,1208.9 1243.6,1196.8 1244.6,1186.6 1245.6,1196.7 1246.6,1181.7 1247.6,1190.0 1248.6,1190.0 1249.6,1193.6 1250.6,1188.8 1251.6,1199.4 1252.6,1195.3 1253.6,1181.7 1254.6,1192.6 1255.6,1184.6 1256.6,1190.0 1257.6,1193.4 1258.6,1200.0 1259.6,1181.1 1260.6,1198.6 1261.6,1186.0 1262.6,1206.2 1263.6,1187.1 1264.6,1185.9 1265.6,1196.6 1266.6,1206.8 1267.6,1191.6 1268.6,1188.8 1269.6,1195.4 1270.6,1197.0 1271.6,1180.4 1272.6,1191.1 1273.6,1194.3 1274.6,1181.1 1275.6,1190.1 1276.6,1197.2 1277.6,1180.8 1278.6,1193.7 1279.6,1180.3 1280.6,1196.9 1281.6,1186.5 1282.6,1177.0 1283.6,1185.2 1284.6,1184.7 1285.6,1185.2 1286.6,1181.0 1287.6,1189.0 1288.6,1185.2 1289.6,1192.3 1290.6,1169.8 1291.6,1199.0 1292.6,1181.3 1293.6,1200.1 1294.6,1184.3 1295.6,1176.2 1296.6,1201.3 1297.6,1171.6 1298.6,1199.9 1299.6,1198.4 1300.6,1186.5 1301.5,1201.3 1302.5,1179.7 1303.5,1184.8 1304.5,1200.5 1305.5,1204.7 1306.5,1197.4 1307.5,1185.6 1308.5,1201.0 1309.5,1197.4 1310.5,1183.5 1311.5,1200.2 1312.5,1186.9 1313.5,1204.1 1314.5,1179.6 1315.5,1175.2 1316.5,1201.9 1317.5,1204.1 1318.5,1207.4 1319.5,1180.0 1320.5,1195.9 1321.5,1179.1 1322.5,1203.9 1323.5,1199.8 1324.5,1191.3 1325.5,1179.0 1326.5,1192.3 1327.5,1200.7 1328.5,1187.0 1329.5,1189.2 1330.5,1184.9 1331.5,1191.9 1332.5,1196.5 1333.5,1189.9 1334.5,1202.8 1335.5,1187.3 1336.5,1177.4 1337.5,1184.4 1338.5,1200.0 1339.5,1206.0 1340.5,1176.5 1341.5,1195.4 1342.5,1192.3 1343.5,1187.8 1344.5,1196.2 1345.5,1189.7 1346.5,1174.6 1347.5,1195.2 1348.5,1170.2 1349.5,1186.1 1350.5,1186.8 1351.5,1180.3 1352.5,1180.5 1353.5,1179.1 1354.5,1184.3 1355.5,1196.1 1356.5,1173.2 1357.5,1191.6 1358.5,1198.7 1359.5,1180.8 1360.5,1183.3 1361.5,1190.4 1362.5,1189.3 1363.5,1184.0 1364.5,1170.1 1365.5,1190.8 1366.5,1203.1 1367.5,1195.9 1368.5,1184.8 1369.5,1192.1 1370.5,1196.9 1371.5,1182.5 1372.5,1182.4 1373.5,1192.2 1374.5,1187.1 1375.5,1196.7 1376.5,1196.4 1377.5,1193.6 1378.5,1204.2 1379.5,1186.6 1380.5,1190.9 1381.5,1195.4 1382.5,1189.0 1383.5,1188.8 1384.5,1197.9 1385.5,1196.3 1386.5,1198.4 1387.5,1176.2 1388.5,1207.7 1389.5,1191.1 1390.5,1181.7 1391.5,1201.6 1392.5,1200.3 1393.5,1200.6 1394.5,1209.2 1395.5,1178.4 1396.5,1193.2 1397.5,1202.3 1398.5,1197.5 1399.5,1189.2 1400.5,1194.5 1401.5,1200.4 1402.5,1186.0 1403.5,1200.4 1404.5,1195.4 1405.5,1189.5 1406.5,1198.9 1407.5,1190.6 1408.5,1198.0 1409.5,1163.7 1410.5,1195.7 1411.5,1184.3 1412.5,1200.3 1413.5,1203.1 1414.5,1192.8 1415.5,1195.1 1416.5,1195.1 1417.5,1191.9 1418.5,1182.4 1419.5,1171.7 1420.5,1170.7 1421.5,1191.0 1422.5,1172.6 1423.5,1174.0 1424.5,1198.2 1425.5,1196.8 1426.5,1192.8 1427.4,1171.5 1428.4,1193.4 1429.4,1194.4 1430.4,1177.5 1431.4,1193.8 1432.4,1193.6 1433.4,1185.8 1434.4,1190.2 1435.4,1201.5 1436.4,1205.0 1437.4,1184.8 1438.4,1207.0 1439.4,1179.4 1440.4,1192.9 1441.4,1189.5 1442.4,1189.3 1443.4,1207.8 1444.4,1199.6 1445.4,1203.1 1446.4,1189.7 1447.4,1176.3 1448.4,1194.5 1449.4,1191.4 1450.4,1206.1 1451.4,1196.1 1452.4,1194.7 1453.4,1194.1 1454.4,1185.9 1455.4,1177.6 1456.4,1192.3 1457.4,1188.0 1458.4,1208.3 1459.4,1185.8 1460.4,1191.8 1461.4,1208.3 1462.4,1188.6 1463.4,1198.9 1464.4,1181.6 1465.4,1187.3 1466.4,1191.2 1467.4,1174.2 1468.4,1193.7 1469.4,1195.3 1470.4,1191.7 1471.4,1190.8 1472.4,1200.9 1473.4,1186.0 1474.4,1187.6 1475.4,1197.4 1476.4,1208.1 1477.4,1179.3 1478.4,1178.1 1479.4,1182.4 1480.4,1181.4 1481.4,1172.8 1482.4,1187.9 1483.4,1174.3 1484.4,1192.7 1485.4,1200.1 1486.4,1190.9 1487.4,1194.2 1488.4,1185.8 1489.4,1172.0 1490.4,1186.4 1491.4,1179.9 1492.4,1168.6 1493.4,1172.0 1494.4,1189.7 1495.4,1197.6 1496.4,1168.4 1497.4,1201.8 1498.4,1209.0 1499.4,1207.2 1500.4,1178.3 1501.4,1205.9 1502.4,1193.2 1503.4,1191.9 1504.4,1176.9 1505.4,1204.9 1506.4,1190.0 1507.4,1187.4 1508.4,1175.8 1509.4,1193.0 1510.4,1187.6 1511.4,1193.4 1512.4,1179.0 1513.4,1180.6 1514.4,1194.5 1515.4,1184.7 1516.4,1205.9 1517.4,1189.7 1518.4,1199.7 1519.4,1194.7 1520.4,1179.8 1521.4,1167.9 1522.4,1188.2 1523.4,1191.8 1524.4,1193.8 1525.4,1182.4 1526.4,1192.2 1527.4,1180.0 1528.4,1174.2 1529.4,1183.7 1530.4,1194.3 1531.4,1182.3 1532.4,1197.5 1533.4,1208.6 1534.4,1178.3 1535.4,1170.1 1536.4,1176.3 1537.4,1194.0 1538.4,1192.9 1539.4,1197.9 1540.4,1183.7 1541.4,1194.4 1542.4,1175.7 1543.4,1198.8 1544.4,1185.1 1545.4,1188.0 1546.4,1187.6 1547.4,1205.1 1548.4,1191.4 1549.4,1187.6 1550.4,1194.6 1551.4,1204.1 1552.4,1195.5 1553.4,1200.5 1554.3,1186.8 1555.3,1180.3 1556.3,1187.0 1557.3,1186.6 1558.3,1192.3 1559.3,1188.4 1560.3,1207.6 1561.3,1189.7 1562.3,1181.2 1563.3,1196.0 1564.3,1183.2 1565.3,1205.6 1566.3,1190.0 1567.3,1153.6 1568.3,1185.6 1569.3,1189.0 1570.3,1167.1 1571.3,1194.6 1572.3,1205.8 1573.3,1197.7 1574.3,1189.6 1575.3,1197.4 1576.3,1197.7 1577.3,1207.2 1578.3,1204.9 1579.3,1199.8 1580.3,1174.6 1581.3,1199.2 1582.3,1161.5 1583.3,1179.4 1584.3,1193.6 1585.3,1182.0 1586.3,1179.8 1587.3,1203.2 1588.3,1207.7 1589.3,1175.1 1590.3,1200.7 1591.3,1181.4 1592.3,1183.4 1593.3,1208.2 1594.3,1183.7 1595.3,1184.6 1596.3,1177.0 1597.3,1190.9 1598.3,1185.7 1599.3,1186.6 1600.3,1193.0 1601.3,1173.3 1602.3,1180.3 1603.3,1174.3 1604.3,1186.8 1605.3,1178.3 1606.3,1200.6 1607.3,1197.1 1608.3,1180.0 1609.3,1193.0 1610.3,1194.7 1611.3,1188.9 1612.3,1207.2 1613.3,1188.8 1614.3,1185.4 1615.3,1193.9 1616.3,1202.4 1617.3,1172.1 1618.3,1186.1 1619.3,1201.4 1620.3,1196.8 1621.3,1207.6 1622.3,1208.9 1623.3,1207.9 1624.3,1199.4 1625.3,1186.1 1626.3,1182.8 1627.3,1191.8 1628.3,1179.8 1629.3,1184.6 1630.3,1202.7 1631.3,1199.5 1632.3,1187.6 1633.3,1183.4 1634.3,1179.1 1635.3,1205.1 1636.3,1207.5 1637.3,1169.3 1638.3,1193.5 1639.3,1180.0 1640.3,1190.1 1641.3,1205.1 1642.3,1175.7 1643.3,1185.5 1644.3,1174.8 1645.3,1184.0 1646.3,1200.8 1647.3,1190.8 1648.3,1179.8 1649.3,1197.6 1650.3,1188.3 1651.3,1178.0 1652.3,1203.3 1653.3,1194.2 1654.3,1188.4 1655.3,1180.2 1656.3,1191.3 1657.3,1197.8 1658.3,1184.3 1659.3,1196.7 1660.3,1185.8 1661.3,1186.4 1662.3,1192.3 1663.3,1181.2 1664.3,1177.7 1665.3,1203.9 1666.3,1184.7 1667.3,1191.9 1668.3,1193.3 1669.3,1189.2 1670.3,1177.7 1671.3,1191.7 1672.3,1193.5 1673.3,1203.3 1674.3,1191.8 1675.3,1190.1 1676.3,1200.1 1677.3,1193.2 1678.3,1185.0 1679.3,1175.4 1680.2,1193.0 1681.2,1169.0 1682.2,1179.4 1683.2,1180.8 1684.2,1183.6 1685.2,1188.8 1686.2,1196.4 1687.2,1190.4 1688.2,1189.1 1689.2,1188.0 1690.2,1173.5 1691.2,1168.6 1692.2,1183.9 1693.2,1179.0 1694.2,1196.7 1695.2,1208.2 1696.2,1190.5 1697.2,1186.9 1698.2,1174.7 1699.2,1164.0 1700.2,1186.6 1701.2,1175.7 1702.2,1177.7 1703.2,1187.1 1704.2,1180.6 1705.2,1185.3 1706.2,1173.0 1707.2,1200.4 1708.2,1205.0 1709.2,1187.8 1710.2,1179.5 1711.2,1178.2 1712.2,1195.2 1713.2,1183.5 1714.2,1196.0 1715.2,1182.0 1716.2,1197.0 1717.2,1200.4 1718.2,1179.3 1719.2,1202.3 1720.2,1204.6 1721.2,1180.8 1722.2,1188.1 1723.2,1205.2 1724.2,1176.7 1725.2,1202.0 1726.2,1193.9 1727.2,1190.3 1728.2,1168.0 1729.2,1189.4 1730.2,1179.6 1731.2,1190.6 1732.2,1183.8 1733.2,1203.9 1734.2,1189.1 1735.2,1195.5 1736.2,1199.8 1737.2,1186.0 1738.2,1178.2 1739.2,1184.1 1740.2,1192.4 1741.2,1181.4 1742.2,1200.8 1743.2,1185.8 1744.2,1183.7 1745.2,1190.0 1746.2,1191.8 1747.2,1187.8 1748.2,1195.1 1749.2,1191.4 1750.2,1181.4 1751.2,1209.3 1752.2,1176.0 1753.2,1184.3 1754.2,1186.9 1755.2,1199.7 1756.2,1193.5 1757.2,1195.4 1758.2,1182.0 1759.2,1182.6 1760.2,1177.1 1761.2,1188.6 1762.2,1208.2 1763.2,1199.3 1764.2,1193.1 1765.2,1185.8 1766.2,1205.0 1767.2,1191.4 1768.2,1188.7 1769.2,1195.6 1770.2,1191.4 1771.2,1165.6 1772.2,1189.6 1773.2,1168.7 1774.2,1186.9 1775.2,1196.9 1776.2,1183.7 1777.2,1193.8 1778.2,1190.2 1779.2,1205.6 1780.2,1185.9 1781.2,1195.7 1782.2,1177.8 1783.2,1188.4 1784.2,1193.6 1785.2,1200.6 1786.2,1189.4 1787.2,1193.6 1788.2,1197.8 1789.2,1170.2 1790.2,1191.2 1791.2,1180.4 1792.2,1174.4 1793.2,1185.5 1794.2,1183.2 1795.2,1184.4 1796.2,1179.7 1797.2,1183.7 1798.2,1184.5 1799.2,1188.3 1800.2,1194.8 1801.2,1194.3 1802.2,1196.4 1803.2,1187.7 1804.2,1176.1 1805.2,1199.6 1806.2,1196.1 1807.1,1200.0 1808.1,1190.4 1809.1,1179.1 1810.1,1193.3 1811.1,1186.6 1812.1,1193.8 1813.1,1161.6 1814.1,1184.8 1815.1,1196.2 1816.1,1206.8 1817.1,1185.0 1818.1,1191.0 1819.1,1171.0 1820.1,1195.8 1821.1,1191.4 1822.1,1193.8 1823.1,1188.8 1824.1,1208.7 1825.1,1175.7 1826.1,1183.2 1827.1,1192.2 1828.1,1193.6 1829.1,1184.4 1830.1,1186.1 1831.1,1194.2 1832.1,1191.5 1833.1,1186.2 1834.1,1194.2 1835.1,1193.2 1836.1,1194.2 1837.1,1193.5 1838.1,1203.3 1839.1,1199.6 1840.1,1186.0 1841.1,1181.6 1842.1,1190.3 1843.1,1191.7 1844.1,1205.2 1845.1,1185.5 1846.1,1172.3 1847.1,1177.3 1848.1,1191.9 1849.1,1193.4 1850.1,1194.2 1851.1,1171.8 1852.1,1187.3 1853.1,1199.3 1854.1,1179.9 1855.1,1181.1 1856.1,1207.9 1857.1,1196.3 1858.1,1179.3 1859.1,1180.3 1860.1,1202.6 1861.1,1189.7 1862.1,1180.6 1863.1,1186.1 1864.1,1200.6 1865.1,1191.6 1866.1,1182.8 1867.1,1184.6 1868.1,1199.6 1869.1,1165.4 1870.1,1187.3 1871.1,1205.2 1872.1,1193.0 1873.1,1200.6 1874.1,1196.7 1875.1,1190.0 1876.1,1164.7 1877.1,1187.6 1878.1,1185.7 1879.1,1181.7 1880.1,1187.4 1881.1,1195.7 1882.1,1175.5 1883.1,1184.1 1884.1,1173.5 1885.1,1178.9 1886.1,1199.2 1887.1,1194.2 1888.1,1193.6 1889.1,1193.4 1890.1,1184.8 1891.1,1191.3 1892.1,1197.6 1893.1,1174.3 1894.1,1175.4 1895.1,1189.0 1896.1,1200.3 1897.1,1195.8 1898.1,1197.1 1899.1,1198.6 1900.1,1199.4 1901.1,1186.9 1902.1,1186.3 1903.1,1184.9 1904.1,1198.9 1905.1,1186.3 1906.1,1168.9 1907.1,1186.9 1908.1,1193.4 1909.1,1161.2 1910.1,1186.1 1911.1,1195.8 1912.1,1180.2 1913.1,1196.6 1914.1,1193.0 1915.1,1178.9 1916.1,1195.6 1917.1,1204.5 1918.1,1182.0 1919.1,1180.7 1920.1,1203.5 1921.1,1192.9 1922.1,1178.1 1923.1,1186.7 1924.1,1180.7 1925.1,1190.5 1926.1,1195.7 1927.1,1195.0 1928.1,1192.4 1929.1,1187.3 1930.1,1201.7 1931.1,1208.8 1932.1,1189.1 1933.0,1182.2 1934.0,1195.9 1935.0,1189.0 1936.0,1200.2 1937.0,1203.3 1938.0,1187.4 1939.0,1189.8 1940.0,1194.3 1941.0,1202.4 1942.0,1188.3 1943.0,1189.7 1944.0,1191.7 1945.0,1190.3 1946.0,1192.9 1947.0,1183.8 1948.0,1185.1 1949.0,1170.9 1950.0,1174.8 1951.0,1189.7 1952.0,1201.8 1953.0,1182.8 1954.0,1195.4 1955.0,1173.7 1956.0,1204.5 1957.0,1193.7 1958.0,1173.6 1959.0,1189.3 1960.0,1181.9 1961.0,1182.6 1962.0,1194.4 1963.0,1180.8 1964.0,1198.3 1965.0,1192.7 1966.0,1167.7 1967.0,1191.3 1968.0,1185.6 1969.0,1200.4 1970.0,1175.7 1971.0,1198.8 1972.0,1197.0 1973.0,1195.6 1974.0,1199.1 1975.0,1204.0 1976.0,1192.5 1977.0,1194.5 1978.0,1190.6 1979.0,1199.6 1980.0,1198.8 1981.0,1192.8 1982.0,1189.6 1983.0,1199.1 1984.0,1190.0 1985.0,1192.0 1986.0,1178.9 1987.0,1183.2 1988.0,1184.5 1989.0,1179.4 1990.0,1196.1 1991.0,1175.8 1992.0,1187.8 1993.0,1194.7 1994.0,1185.5 1995.0,1200.6 1996.0,1171.6" fill="none" stroke="#800080" stroke-width="2.6" stroke-linejoin="round" clip-path="url(#clipb)"/>
<path d="M1998.0,87.0 H1237.6 V1209.6 H1998.0" fill="none" stroke="#000" stroke-width="2.3"/>
<line x1="1996" y1="87.0" x2="1996" y2="1209.6" stroke="#000" stroke-width="2"/>
<text class="t27" x="1624.3" y="1283.7" text-anchor="middle">Frequency (kHz)</text>
<text class="t27a" transform="translate(1182.2 650.2) rotate(-90)" text-anchor="middle">Amplitude</text>
<line x1="1856" y1="130.5" x2="1914.4" y2="130.5" stroke="#000000" stroke-width="2.3" stroke-linecap="round"/>
<text class="t23" x="1926.3" y="139.9">0.5 <tspan dx="-1.0">V</tspan></text>
<line x1="1856" y1="362.2" x2="1914.4" y2="362.2" stroke="#ff0000" stroke-width="2.3" stroke-linecap="round"/>
<text class="t23" x="1926.3" y="371.59999999999997">0.2 <tspan dx="-1.0">V</tspan></text>
<line x1="1861" y1="589.9" x2="1919.2" y2="589.9" stroke="#0000ff" stroke-width="2.3" stroke-linecap="round"/>
<text class="t23" x="1926.3" y="599.3">0.1 <tspan dx="-1.0">V</tspan></text>
<line x1="1842.2" y1="806.3" x2="1900.6" y2="806.3" stroke="#8000ff" stroke-width="2.3" stroke-linecap="round"/>
<text class="t23" x="1912.0" y="815.6999999999999">0.05 <tspan dx="0.3">V</tspan></text>
<line x1="1842.2" y1="1025.9" x2="1900.6" y2="1025.9" stroke="#800080" stroke-width="2.3" stroke-linecap="round"/>
<text class="t23" x="1912.0" y="1035.3000000000002">0.02 <tspan dx="0.3">V</tspan></text>
<text class="lab" x="1165.3" y="100.3">b</text>
</g>
<g id="panel-c">
<rect x="73.1" y="696.2" width="994.1" height="514.5999999999999" fill="none" stroke="#000" stroke-width="2"/>
<line x1="73.1" y1="718.1" x2="82.6" y2="718.1" stroke="#000" stroke-width="2"/>
<line x1="73.1" y1="807.6" x2="82.6" y2="807.6" stroke="#000" stroke-width="2"/>
<line x1="73.1" y1="897.2" x2="82.6" y2="897.2" stroke="#000" stroke-width="2"/>
<line x1="73.1" y1="986.8" x2="82.6" y2="986.8" stroke="#000" stroke-width="2"/>
<line x1="73.1" y1="1076.3" x2="82.6" y2="1076.3" stroke="#000" stroke-width="2"/>
<line x1="73.1" y1="1165.8" x2="82.6" y2="1165.8" stroke="#000" stroke-width="2"/>
<line x1="73.1" y1="762.9" x2="78.1" y2="762.9" stroke="#000" stroke-width="2"/>
<line x1="73.1" y1="852.4" x2="78.1" y2="852.4" stroke="#000" stroke-width="2"/>
<line x1="73.1" y1="942.0" x2="78.1" y2="942.0" stroke="#000" stroke-width="2"/>
<line x1="73.1" y1="1031.5" x2="78.1" y2="1031.5" stroke="#000" stroke-width="2"/>
<line x1="73.1" y1="1121.1" x2="78.1" y2="1121.1" stroke="#000" stroke-width="2"/>
<line x1="155.8" y1="1210.8" x2="155.8" y2="1201.3" stroke="#000" stroke-width="2"/>
<text class="t23" x="156.4" y="1239.0" text-anchor="middle">0.0</text>
<line x1="321.5" y1="1210.8" x2="321.5" y2="1201.3" stroke="#000" stroke-width="2"/>
<text class="t23" x="322.1" y="1239.0" text-anchor="middle">0.1</text>
<line x1="487.2" y1="1210.8" x2="487.2" y2="1201.3" stroke="#000" stroke-width="2"/>
<text class="t23" x="487.8" y="1239.0" text-anchor="middle">0.2</text>
<line x1="652.9" y1="1210.8" x2="652.9" y2="1201.3" stroke="#000" stroke-width="2"/>
<text class="t23" x="653.5" y="1239.0" text-anchor="middle">0.3</text>
<line x1="818.6" y1="1210.8" x2="818.6" y2="1201.3" stroke="#000" stroke-width="2"/>
<text class="t23" x="819.2" y="1239.0" text-anchor="middle">0.4</text>
<line x1="984.3" y1="1210.8" x2="984.3" y2="1201.3" stroke="#000" stroke-width="2"/>
<text class="t23" x="984.9" y="1239.0" text-anchor="middle">0.5</text>
<line x1="238.7" y1="1210.8" x2="238.7" y2="1205.8" stroke="#000" stroke-width="2"/>
<line x1="404.4" y1="1210.8" x2="404.4" y2="1205.8" stroke="#000" stroke-width="2"/>
<line x1="570.0" y1="1210.8" x2="570.0" y2="1205.8" stroke="#000" stroke-width="2"/>
<line x1="735.8" y1="1210.8" x2="735.8" y2="1205.8" stroke="#000" stroke-width="2"/>
<line x1="901.5" y1="1210.8" x2="901.5" y2="1205.8" stroke="#000" stroke-width="2"/>
<circle cx="155.8" cy="1166.0" r="7.6" fill="url(#ball)"/>
<circle cx="238.5" cy="1134.5" r="7.6" fill="url(#ball)"/>
<circle cx="321.5" cy="1080.8" r="7.6" fill="url(#ball)"/>
<circle cx="487" cy="982.4" r="7.6" fill="url(#ball)"/>
<circle cx="984.35" cy="745.4" r="7.6" fill="url(#ball)"/>
<line x1="155.8" y1="1166.0" x2="985.2" y2="741.0" stroke="#ff0000" stroke-width="2"/>
<circle cx="146.5" cy="721.2" r="7.6" fill="url(#ball)"/>
<text class="t23" x="175.6" y="730">Experimental data</text>
<line x1="122.8" y1="749.8" x2="170.3" y2="749.8" stroke="#ff0000" stroke-width="2"/>
<text class="t23" x="175.6" y="758.7">Linear fitting</text>
<text class="t27" x="604" y="1286" text-anchor="middle">Driving voltage (V)</text>
<text class="t27a" transform="translate(20.5 936.7) rotate(-90)" text-anchor="middle">Amplitude</text>
<text class="lab" x="6.2" y="695.6">c</text>
</g>
</svg></body></html>
